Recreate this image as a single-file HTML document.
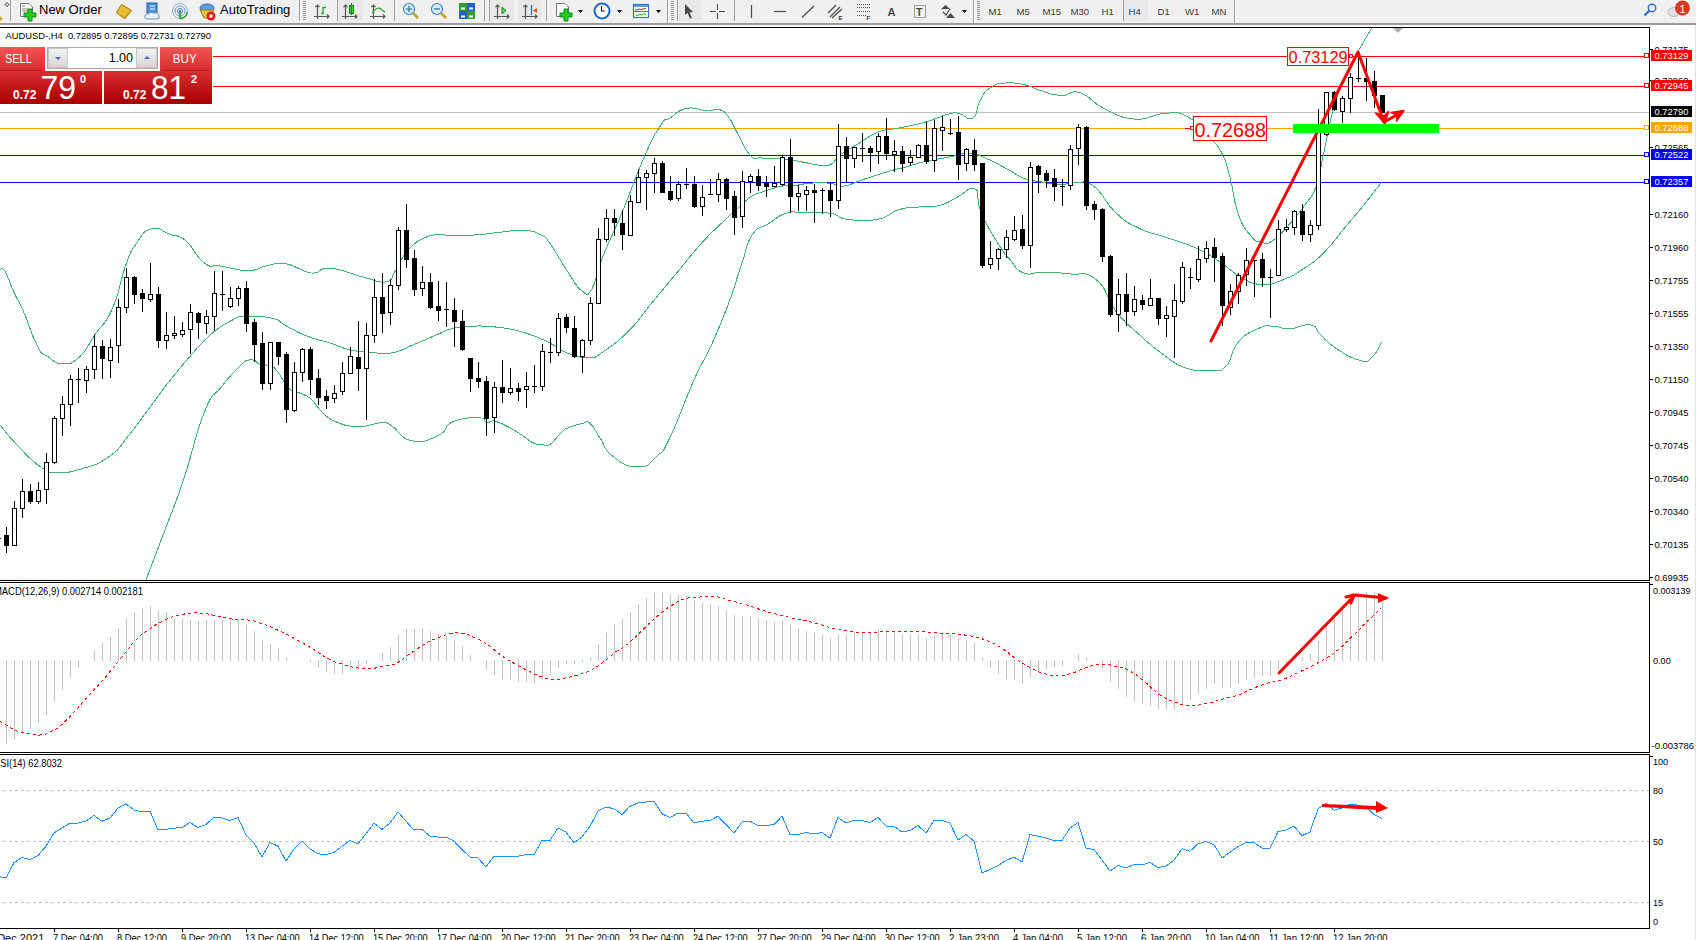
<!DOCTYPE html><html><head><meta charset="utf-8"><title>MT4</title><style>
html,body{margin:0;padding:0;width:1696px;height:940px;overflow:hidden;background:#fff}
svg{position:absolute;left:0;top:0}
text{font-family:"Liberation Sans",sans-serif}
</style></head><body>
<svg width="1696" height="940" viewBox="0 0 1696 940">
<rect x="0" y="0" width="1696" height="23" fill="#f0f0f0"/>
<rect x="0" y="23" width="1696" height="2" fill="#9a9a9a"/>
<rect x="1695" y="25" width="1" height="915" fill="#e0e0e0"/>
<g id="toolbar"><g shape-rendering="crispEdges">
<rect x="10" y="0" width="1" height="21" fill="#a0a0a0"/>
<rect x="299" y="0" width="1" height="21" fill="#a0a0a0"/><rect x="300" y="0" width="1" height="21" fill="#fff"/>
<rect x="337" y="0" width="1" height="21" fill="#a0a0a0"/>
<rect x="394" y="0" width="1" height="21" fill="#a0a0a0"/>
<rect x="484" y="0" width="1" height="21" fill="#a0a0a0"/>
<rect x="489" y="0" width="1" height="21" fill="#a0a0a0"/>
<rect x="546" y="0" width="1" height="21" fill="#a0a0a0"/>
<rect x="667" y="0" width="1" height="23" fill="#a0a0a0"/><rect x="668" y="0" width="1" height="23" fill="#fff"/>
<rect x="677" y="0" width="1" height="21" fill="#a0a0a0"/>
<rect x="734" y="0" width="1" height="21" fill="#a0a0a0"/>
<rect x="973" y="0" width="1" height="23" fill="#a0a0a0"/><rect x="974" y="0" width="1" height="23" fill="#fff"/>
<rect x="1123" y="0" width="1" height="21" fill="#a0a0a0"/>
<rect x="1234" y="0" width="1" height="23" fill="#a0a0a0"/><rect x="1235" y="0" width="1" height="23" fill="#fff"/>
<!-- pressed backgrounds -->
<rect x="338" y="0" width="24" height="21" fill="#e8e8e8"/>
<rect x="490" y="0" width="24" height="21" fill="#e8e8e8"/>
<rect x="518" y="0" width="24" height="21" fill="#e8e8e8"/>
<rect x="678" y="0" width="24" height="21" fill="#e8e8e8"/>
<rect x="1124" y="0" width="24" height="21" fill="#e8e8e8"/>
<!-- grips -->
<path d="M303,1.5h3M303,3.5h3M303,5.5h3M303,7.5h3M303,9.5h3M303,11.5h3M303,13.5h3M303,15.5h3M303,17.5h3M303,19.5h3" stroke="#9a9a9a" stroke-width="1"/>
<path d="M671,1.5h3M671,3.5h3M671,5.5h3M671,7.5h3M671,9.5h3M671,11.5h3M671,13.5h3M671,15.5h3M671,17.5h3M671,19.5h3" stroke="#9a9a9a" stroke-width="1"/>
<path d="M977,1.5h3M977,3.5h3M977,5.5h3M977,7.5h3M977,9.5h3M977,11.5h3M977,13.5h3M977,15.5h3M977,17.5h3M977,19.5h3" stroke="#9a9a9a" stroke-width="1"/>
</g>
<!-- left partial icon -->
<path d="M0,16 L3,19 L0,21 Z" fill="#d4a020"/>
<path d="M7,2.5 L9,4.5 L7,6.5 L5,4.5 Z" fill="none" stroke="#000" stroke-width="0.8"/>
<!-- New order icon -->
<path d="M20.5,3.5 H29 L32.5,7 V16.5 H20.5 Z" fill="#fafafa" stroke="#777" stroke-width="1"/>
<path d="M22,6h3M22,9h6M22,11h6" stroke="#888" stroke-width="1"/>
<path d="M28,9 h4 v4 h4 v4 h-4 v4 h-4 v-4 h-4 v-4 h4 Z" fill="#22cc22" stroke="#108a10" stroke-width="1"/>
<text x="39" y="14" font-size="13" fill="#000">New Order</text>
<!-- book -->
<path d="M116.5,12.5 L121.5,4.5 L131.5,10.5 L125,18.5 Z" fill="#e6c030" stroke="#a06a10" stroke-width="1"/>
<path d="M117,13 L124.5,18.5 L130,12" fill="none" stroke="#c89028" stroke-width="1.2"/>
<!-- server cloud -->
<rect x="147" y="3" width="10" height="10" fill="#4a90e0" stroke="#2060b0"/>
<path d="M150,6h5M150,9h5" stroke="#fff" stroke-width="1"/>
<path d="M145,18 Q144,14 148,14 Q150,11 154,13 Q159,12 159,16 Q160,19 157,19 L147,19 Q145,19 145,18 Z" fill="#e8f0f8" stroke="#7090b0" stroke-width="1"/>
<!-- signal -->
<circle cx="180" cy="11" r="7.5" fill="none" stroke="#8ab0d8" stroke-width="1"/>
<circle cx="180" cy="11" r="5" fill="none" stroke="#6a98d0" stroke-width="1"/>
<circle cx="180" cy="11" r="2.5" fill="none" stroke="#3a78c8" stroke-width="1"/>
<circle cx="180" cy="11" r="1" fill="#2060c0"/>
<path d="M180,11 V18.5 A7.5,7.5 0 0 0 187.3,12.5" fill="none" stroke="#30a030" stroke-width="1.6"/>
<!-- autotrading -->
<ellipse cx="207" cy="8" rx="7" ry="4" fill="#5aa0e0" stroke="#3070b0"/>
<path d="M200,10 L214,10 L209,18 L204,18 Z" fill="#e8c040" stroke="#a08020"/>
<circle cx="211" cy="16" r="4.5" fill="#e02020"/>
<rect x="209.5" y="14.5" width="3" height="3" fill="#fff"/>
<text x="220" y="14" font-size="13" fill="#000">AutoTrading</text>
<!-- bar chart icon -->
<g fill="none" stroke="#555" stroke-width="1.2">
<path d="M317.5,5 V19 M314,16.5 H329"/><path d="M315.5,7 L317.5,5 L319.5,7 M327,14.5 L329,16.5 L327,18.5"/>
<path d="M345.5,5 V19 M342,16.5 H357"/><path d="M343.5,7 L345.5,5 L347.5,7 M355,14.5 L357,16.5 L355,18.5"/>
<path d="M373.5,5 V19 M370,16.5 H385"/><path d="M371.5,7 L373.5,5 L375.5,7 M383,14.5 L385,16.5 L383,18.5"/>
<path d="M497.5,5 V19 M494,16.5 H509"/><path d="M495.5,7 L497.5,5 L499.5,7 M507,14.5 L509,16.5 L507,18.5"/>
<path d="M525.5,5 V19 M522,16.5 H537"/><path d="M523.5,7 L525.5,5 L527.5,7 M535,14.5 L537,16.5 L535,18.5"/>
</g>
<path d="M321,13.5 H323 V7.5 H326" fill="none" stroke="#20a020" stroke-width="1.3"/>
<rect x="349.5" y="5.5" width="4" height="8" fill="#30d030" stroke="#108a10"/>
<path d="M351.5,3 V15" stroke="#108a10" stroke-width="1"/>
<path d="M372,13 Q378,5 382,10 L385,12" fill="none" stroke="#20a020" stroke-width="1.2"/>
<!-- zoom in/out -->
<circle cx="409" cy="9" r="5.5" fill="#d8f0fc" stroke="#3a80c8" stroke-width="1.2"/>
<path d="M406,9h6M409,6v6" stroke="#4a88b8" stroke-width="1.6"/>
<path d="M413,13 L418,18" stroke="#c8a020" stroke-width="2.5"/>
<circle cx="437" cy="9" r="5.5" fill="#d8f0fc" stroke="#3a80c8" stroke-width="1.2"/>
<path d="M434,9h6" stroke="#4a88b8" stroke-width="1.6"/>
<path d="M441,13 L446,18" stroke="#c8a020" stroke-width="2.5"/>
<!-- tile -->
<rect x="459" y="3" width="8" height="8" fill="#30a030"/><rect x="467" y="3" width="8" height="8" fill="#2060d0"/>
<rect x="459" y="11" width="8" height="8" fill="#2060d0"/><rect x="467" y="11" width="8" height="8" fill="#30a030"/>
<path d="M461,7.5h4v2h-4zM469,7.5h4v2h-4zM461,15.5h4v2h-4zM469,15.5h4v2h-4z" fill="#fff"/>
<!-- autoscroll / shift -->
<path d="M502,7 L506,10.5 L502,14 Z" fill="#60d060" stroke="#108a10" stroke-width="1"/>
<path d="M531.5,5 V15" stroke="#2070b0" stroke-width="1.3"/>
<path d="M533,10.5 L537,8 V13 Z" fill="#e05010"/>
<!-- indicators -->
<path d="M556.5,3.5 H565 L568.5,7 V16.5 H556.5 Z" fill="#fafafa" stroke="#777" stroke-width="1"/>
<path d="M564,9 h4 v4 h4 v4 h-4 v4 h-4 v-4 h-4 v-4 h4 Z" fill="#22cc22" stroke="#108a10" stroke-width="1"/>
<path d="M578,10 h5 l-2.5,3 Z" fill="#000"/>
<!-- clock -->
<circle cx="602" cy="11" r="7.5" fill="#fff" stroke="#1a6ad0" stroke-width="2"/>
<path d="M601.5,6 V11 H605" fill="none" stroke="#222" stroke-width="1.2"/>
<path d="M617,10 h5 l-2.5,3 Z" fill="#000"/>
<!-- templates -->
<rect x="633.5" y="4.5" width="15" height="13" fill="#fff" stroke="#3a78c8" stroke-width="1.2"/>
<rect x="634" y="5" width="14" height="2" fill="#5a98e0"/>
<path d="M634,11.5h14" stroke="#3a78c8"/>
<path d="M635,10 L637,10 L639,9 L641,9.5 L643,9 L646,8.5" fill="none" stroke="#a03010" stroke-width="1"/>
<path d="M636,15.5 L638,15 L640,14.5 L642,15 L644,13.5 L646,15" fill="none" stroke="#20a020" stroke-width="1"/>
<path d="M656,10 h5 l-2.5,3 Z" fill="#000"/>
<!-- cursor -->
<path d="M685,4 L693,12 L689.5,12.5 L692,18 L690,18.5 L687.5,13 L685,15 Z" fill="#4a4a4a"/>
<!-- crosshair -->
<path d="M710,11.5h6M719,11.5h6M717.5,4v6M717.5,13v6" stroke="#4a4a4a" stroke-width="1"/>
<path d="M751.5,5 V18" stroke="#4a4a4a" stroke-width="1.2"/>
<path d="M774,11.5 H786" stroke="#4a4a4a" stroke-width="1.2"/>
<path d="M802,17.5 L814,6" stroke="#4a4a4a" stroke-width="1.2"/>
<!-- channel -->
<path d="M828,13 L836,5 M830,17 L840,7 M832,18 L842,9" stroke="#4a4a4a" stroke-width="1.2"/>
<text x="838.5" y="19.5" font-size="6" font-weight="bold" fill="#333">E</text>
<!-- fibo -->
<path d="M857,4.5h13M857,7.5h13M857,11.5h13M857,15.5h10" stroke="#555" stroke-width="1" stroke-dasharray="1,1"/>
<text x="866.5" y="19.5" font-size="6" font-weight="bold" fill="#333">F</text>
<text x="887.5" y="16" font-size="11" font-weight="bold" fill="#4a4a4a">A</text>
<!-- label T -->
<rect x="914.5" y="5.5" width="11" height="12" fill="none" stroke="#555" stroke-width="1" stroke-dasharray="1,1"/>
<text x="916" y="16" font-size="10.5" font-weight="bold" fill="#4a4a4a">T</text>
<!-- arrows -->
<path d="M941,9 L945.5,5 L950,9 Z M946,18 L950.5,13 L955,18 Z" fill="#4a4a4a"/>
<path d="M943,12 L946,15 L950,9" fill="none" stroke="#4a4a4a" stroke-width="1.2"/>
<path d="M962,10 h5 l-2.5,3 Z" fill="#000"/>
<!-- timeframes -->
<g font-size="9.6" fill="#3a3a3a">
<text x="988.5" y="15">M1</text>
<text x="1016.5" y="15">M5</text>
<text x="1042.5" y="15">M15</text>
<text x="1070.5" y="15">M30</text>
<text x="1101.5" y="15">H1</text>
<text x="1128.5" y="15">H4</text>
<text x="1157.5" y="15">D1</text>
<text x="1185" y="15">W1</text>
<text x="1211.5" y="15">MN</text>
</g>
<!-- search -->
<circle cx="1652" cy="8" r="3.7" fill="none" stroke="#2a6ad0" stroke-width="1.4"/>
<path d="M1649.5,10.5 L1644.5,15.5" stroke="#2a6ad0" stroke-width="2.2"/>
<!-- chat -->
<ellipse cx="1674" cy="12" rx="6" ry="4.5" fill="#e0e0e0" stroke="#b8b8b8"/>
<circle cx="1682.5" cy="8" r="7.5" fill="#d83a20"/>
<text x="1679.6" y="13" font-size="11" fill="#fff">1</text>
</g>
<g shape-rendering="crispEdges">
<path d="M0,27.5H1649.5V580.5H0" fill="none" stroke="#000" stroke-width="1"/>
<path d="M0,582.5H1649.5V752.5H0" fill="none" stroke="#000" stroke-width="1"/>
<path d="M0,754.5H1649.5V928.5H0" fill="none" stroke="#000" stroke-width="1"/>
</g>
<defs><clipPath id="cm"><rect x="0" y="28" width="1649" height="552"/></clipPath><clipPath id="cmacd"><rect x="0" y="583" width="1649" height="169"/></clipPath><clipPath id="crsi"><rect x="0" y="755" width="1649" height="173"/></clipPath></defs>
<g clip-path="url(#cm)">
<g shape-rendering="crispEdges">
<rect x="0" y="56" width="1649" height="1" fill="#ff0000"/>
<rect x="0" y="86" width="1649" height="1" fill="#ff0000"/>
<rect x="0" y="112" width="1649" height="1" fill="#c0c0c0"/>
<rect x="0" y="128" width="1649" height="1" fill="#ffa500"/>
<rect x="0" y="155" width="1649" height="1" fill="#0000ff"/>
<rect x="0" y="182" width="1649" height="1" fill="#0000ff"/>
</g>
<g fill="none" stroke="#3cb371" stroke-width="1" shape-rendering="crispEdges">
<path d="M0.0,269.6 C1.3,270.1 1.4,265.4 5.0,271.3 C8.6,277.2 8.6,280.8 13.6,291.7 C18.6,302.6 17.5,297.6 23.8,312.1 C30.1,326.6 31.0,334.3 37.4,346.1 C43.8,357.9 40.9,351.7 47.7,356.4 C54.5,361.1 54.4,363.8 63.0,363.8 C71.6,363.8 71.4,364.3 80.0,356.4 C88.6,348.5 86.7,346.9 95.3,334.2 C103.9,321.5 104.1,327.3 112.3,308.7 C120.5,290.1 119.7,281.8 126.0,264.5 C132.3,247.2 129.3,253.5 136.1,244.0 C142.9,234.5 142.4,231.2 151.5,228.7 C160.6,226.2 161.1,231.3 170.2,234.5 C179.3,237.7 176.4,233.1 185.5,240.6 C194.6,248.1 194.7,256.0 204.2,262.8 C213.7,269.6 209.4,264.1 221.2,266.2 C233.0,268.3 236.7,270.6 248.5,270.6 C260.3,270.6 255.5,268.0 265.5,266.2 C275.5,264.4 273.7,262.0 285.9,263.8 C298.1,265.6 299.6,271.8 311.4,273.0 C323.2,274.2 316.0,267.0 330.0,268.2 C344.0,269.4 349.1,273.7 364.0,277.4 C378.9,281.1 377.8,283.4 386.0,281.9 C394.2,280.4 390.7,277.7 394.9,271.6 C399.1,265.5 397.0,266.1 401.6,259.2 C406.2,252.3 406.2,251.4 412.1,245.8 C418.0,240.2 417.0,241.2 423.6,238.1 C430.2,235.0 430.4,235.1 437.0,234.3 C443.6,233.5 438.0,235.0 448.5,235.2 C459.0,235.4 462.7,235.7 476.4,234.9 C490.1,234.1 487.3,233.4 500.0,232.2 C512.7,231.0 513.1,229.8 524.0,230.5 C534.9,231.2 533.8,231.0 541.0,234.9 C548.2,238.8 543.8,235.0 551.0,245.0 C558.2,255.0 559.7,260.0 568.0,272.3 C576.3,284.6 575.6,286.6 582.0,291.0 C588.4,295.4 586.7,297.3 592.0,288.7 C597.3,280.1 593.8,279.4 602.0,258.7 C610.2,238.0 611.8,237.3 622.7,211.0 C633.6,184.7 633.1,182.6 643.0,160.0 C652.9,137.4 652.7,137.6 660.0,126.4 C667.3,115.2 662.9,122.7 670.2,117.9 C677.5,113.1 677.2,110.1 687.2,108.3 C697.2,106.5 699.5,110.7 707.7,111.0 C715.9,111.3 712.5,108.0 717.9,109.4 C723.3,110.8 722.6,109.4 728.0,116.2 C733.4,123.0 732.4,124.5 738.3,134.9 C744.2,145.3 743.9,149.1 750.2,155.3 C756.5,161.5 753.5,157.1 762.1,158.0 C770.7,158.9 771.6,157.6 782.5,158.7 C793.4,159.8 793.9,160.5 803.0,162.1 C812.1,163.7 809.3,164.1 816.6,164.8 C823.9,165.5 823.9,167.5 830.2,164.8 C836.5,162.1 833.1,160.0 840.4,154.6 C847.7,149.2 847.4,150.4 857.4,144.4 C867.4,138.4 866.9,136.5 877.8,132.2 C888.7,127.9 885.6,130.8 898.3,128.1 C911.0,125.4 911.9,125.8 925.5,122.0 C939.1,118.2 940.2,116.0 949.3,113.8 C958.4,111.6 953.2,112.7 959.5,113.8 C965.8,114.9 967.6,121.4 973.1,117.9 C978.6,114.4 975.4,108.8 980.0,100.8 C984.6,92.8 983.3,92.6 990.2,87.9 C997.1,83.2 996.3,83.8 1005.7,83.0 C1015.1,82.2 1015.9,82.9 1025.4,85.0 C1034.9,87.1 1031.8,88.0 1041.2,90.8 C1050.6,93.6 1050.3,95.0 1060.8,95.5 C1071.3,96.0 1069.0,89.3 1080.5,92.8 C1092.0,96.3 1089.3,101.5 1104.0,108.5 C1118.7,115.5 1119.9,117.8 1135.6,119.2 C1151.3,120.6 1149.4,114.3 1163.0,113.6 C1176.6,112.9 1174.1,109.9 1186.7,116.4 C1199.3,122.9 1200.9,128.0 1210.3,138.0 C1219.7,148.0 1216.8,143.3 1222.1,153.8 C1227.4,164.3 1225.8,161.7 1230.0,177.4 C1234.2,193.1 1232.6,197.6 1237.9,212.8 C1243.2,228.0 1243.4,226.5 1249.7,234.4 C1256.0,242.3 1255.2,240.7 1261.5,242.3 C1267.8,243.9 1266.0,245.0 1273.3,240.3 C1280.6,235.6 1280.6,234.0 1289.0,224.6 C1297.4,215.2 1297.4,215.5 1304.8,205.0 C1312.2,194.5 1311.4,200.0 1316.6,185.3 C1321.8,170.6 1319.1,172.9 1324.4,149.8 C1329.7,126.7 1328.9,121.8 1336.3,98.7 C1343.7,75.6 1342.6,82.2 1352.0,63.3 C1361.4,44.4 1366.4,37.3 1371.7,27.9"/>
<path d="M0.0,425.1 C4.5,430.4 6.1,433.7 17.0,444.9 C27.9,456.1 29.9,459.7 40.8,467.0 C51.7,474.3 47.0,471.6 57.9,472.1 C68.8,472.6 68.1,472.8 81.7,468.7 C95.3,464.6 96.2,465.9 108.9,456.8 C121.6,447.7 118.4,447.8 129.3,434.6 C140.2,421.4 138.9,421.9 149.8,407.4 C160.7,392.9 159.3,394.0 170.2,380.2 C181.1,366.4 179.7,368.0 190.6,355.7 C201.5,343.4 200.1,343.6 211.0,334.2 C221.9,324.8 222.3,325.4 231.4,320.6 C240.5,315.8 234.1,316.8 245.0,316.2 C255.9,315.6 261.4,315.7 272.3,318.2 C283.2,320.7 276.8,321.0 285.9,325.7 C295.0,330.4 294.5,331.3 306.3,335.9 C318.1,340.5 318.2,339.2 330.0,343.0 C341.8,346.8 339.5,347.5 350.4,350.0 C361.3,352.5 359.9,351.5 370.8,352.3 C381.7,353.1 380.4,354.8 391.3,353.0 C402.2,351.2 399.9,350.2 411.7,345.5 C423.5,340.8 424.6,339.8 435.5,335.3 C446.4,330.8 442.5,331.0 452.5,328.5 C462.5,326.0 460.3,326.4 473.0,326.1 C485.7,325.8 485.5,325.5 500.0,327.5 C514.5,329.5 513.7,329.3 527.4,333.6 C541.1,337.9 540.4,338.5 551.2,343.8 C562.0,349.1 558.0,349.7 568.0,353.3 C578.0,356.9 579.6,357.7 588.7,357.4 C597.8,357.1 591.4,359.6 602.3,352.3 C613.2,345.0 616.8,342.8 629.5,330.2 C642.2,317.6 639.2,318.1 650.0,305.0 C660.8,291.9 661.9,290.7 670.0,281.0 C678.1,271.3 672.2,278.4 680.4,268.5 C688.6,258.6 689.9,256.0 700.8,244.0 C711.7,232.0 710.4,233.9 721.3,223.4 C732.2,212.9 733.5,212.0 741.7,204.7 C749.9,197.4 746.5,199.5 751.9,196.1 C757.3,192.7 753.9,194.8 762.1,192.1 C770.3,189.4 773.4,187.8 782.5,186.0 C791.6,184.2 788.8,186.0 796.1,185.3 C803.4,184.6 800.7,183.8 809.8,183.2 C818.9,182.6 821.1,182.5 830.2,183.2 C839.3,183.9 834.7,187.1 843.8,186.0 C852.9,184.9 851.5,183.2 864.2,179.1 C876.9,175.0 880.5,173.8 891.4,170.6 C902.3,167.4 895.9,169.7 905.0,167.2 C914.1,164.7 913.7,164.1 925.5,161.4 C937.3,158.7 937.8,159.2 949.3,157.0 C960.8,154.8 959.1,152.9 968.6,153.1 C978.1,153.3 974.4,153.6 984.9,157.9 C995.4,162.2 997.7,164.0 1007.9,169.4 C1018.1,174.8 1014.5,174.7 1023.2,178.0 C1031.9,181.3 1030.7,180.0 1040.4,181.8 C1050.1,183.6 1050.4,184.4 1059.6,184.7 C1068.8,185.0 1065.7,182.3 1074.9,182.8 C1084.1,183.3 1083.1,178.6 1094.0,186.6 C1104.9,194.6 1103.8,201.6 1115.9,212.8 C1128.0,224.0 1126.9,222.2 1139.5,228.5 C1152.1,234.8 1148.3,231.4 1163.0,236.4 C1177.7,241.4 1180.1,241.1 1194.6,247.4 C1209.1,253.7 1204.6,251.9 1217.2,260.0 C1229.8,268.1 1230.0,271.2 1241.8,277.7 C1253.6,284.2 1251.0,283.7 1261.5,284.4 C1272.0,285.1 1269.7,284.9 1281.2,280.5 C1292.7,276.1 1293.3,275.5 1304.8,267.9 C1316.3,260.3 1313.9,262.6 1324.4,252.1 C1334.9,241.6 1333.6,241.1 1344.1,228.5 C1354.6,215.9 1353.8,217.4 1363.8,205.0 C1373.8,192.6 1376.8,188.2 1381.5,182.1"/>
<path d="M145.5,581.0 C150.7,567.4 154.8,557.2 165.0,530.0 C175.2,502.8 173.3,510.2 183.8,478.9 C194.3,447.6 194.2,437.0 204.2,412.5 C214.2,388.0 211.7,399.4 221.2,387.0 C230.7,374.6 232.9,373.1 240.0,366.0 C247.1,358.9 243.9,361.9 247.7,360.4 C251.5,358.9 251.3,359.4 254.4,360.4 C257.5,361.4 255.9,363.0 259.2,364.3 C262.5,365.6 262.7,364.2 266.8,365.2 C270.9,366.2 269.9,363.8 274.5,368.1 C279.1,372.4 279.9,375.9 284.0,381.5 C288.1,387.1 285.7,386.1 289.8,389.2 C293.9,392.3 293.8,390.4 299.4,393.0 C305.0,395.6 305.3,394.2 310.9,398.8 C316.5,403.4 313.8,404.1 320.4,410.2 C327.0,416.3 325.6,417.4 335.8,421.7 C346.0,426.0 346.7,426.2 358.8,426.5 C370.9,426.8 372.3,423.1 381.0,422.8 C389.7,422.5 383.1,420.7 391.3,425.5 C399.5,430.3 399.0,438.3 411.7,440.8 C424.4,443.3 428.1,440.0 439.0,435.0 C449.9,430.0 441.8,426.6 452.5,422.0 C463.2,417.4 470.1,417.6 479.2,417.8 C488.3,418.0 482.2,421.6 486.8,422.6 C491.4,423.6 488.2,419.0 496.4,421.6 C504.6,424.2 507.8,426.6 517.5,432.2 C527.2,437.8 526.2,439.4 532.8,442.7 C539.4,446.0 537.8,444.1 542.4,444.6 C547.0,445.1 544.9,447.9 550.0,444.6 C555.1,441.3 556.4,436.8 561.5,432.2 C566.6,427.6 563.6,429.7 569.2,427.4 C574.8,425.1 577.0,424.5 582.6,423.5 C588.2,422.5 585.6,419.7 590.2,423.5 C594.8,427.3 594.1,429.2 600.0,437.9 C605.9,446.6 602.4,448.3 612.5,456.1 C622.6,463.9 626.2,467.0 638.0,467.0 C649.8,467.0 648.3,464.0 656.8,456.1 C665.3,448.2 660.1,457.7 670.0,437.4 C679.9,417.1 683.1,404.4 694.0,380.0 C704.9,355.6 701.9,365.9 711.0,345.9 C720.1,325.9 719.8,326.8 728.0,305.0 C736.2,283.2 735.3,282.8 741.7,264.2 C748.1,245.6 744.6,246.2 751.9,235.3 C759.2,224.4 759.9,229.3 769.0,223.4 C778.1,217.5 776.9,216.1 786.0,213.2 C795.1,210.3 791.2,212.5 803.0,212.5 C814.8,212.5 818.4,211.4 830.2,213.2 C842.0,215.0 834.5,217.7 847.2,219.3 C859.9,220.9 864.2,221.8 877.8,219.3 C891.4,216.8 887.4,213.1 898.3,209.8 C909.2,206.5 907.8,208.1 918.7,207.0 C929.6,205.9 929.1,208.2 939.1,205.7 C949.1,203.2 946.7,202.4 956.1,197.8 C965.5,193.2 968.3,186.4 974.4,188.5 C980.5,190.6 976.2,197.1 979.0,205.8 C981.8,214.5 979.9,210.8 985.0,221.0 C990.1,231.2 991.7,233.8 998.3,244.0 C1004.9,254.2 1003.2,251.7 1009.8,259.4 C1016.4,267.1 1014.8,269.3 1023.2,272.8 C1031.6,276.3 1029.1,272.3 1041.2,272.6 C1053.3,272.9 1054.0,271.9 1068.7,273.8 C1083.4,275.7 1083.6,269.7 1096.2,279.7 C1108.8,289.7 1104.4,296.5 1115.9,311.2 C1127.4,325.9 1126.9,323.3 1139.5,334.8 C1152.1,346.3 1150.4,345.5 1163.0,354.4 C1175.6,363.3 1174.1,364.0 1186.7,368.2 C1199.3,372.4 1199.8,370.7 1210.3,370.2 C1220.8,369.7 1218.6,373.7 1226.0,366.3 C1233.4,358.9 1229.5,352.6 1237.9,342.6 C1246.3,332.6 1248.2,333.3 1257.6,328.9 C1267.0,324.5 1264.9,326.1 1273.3,326.1 C1281.7,326.1 1279.0,329.2 1289.0,328.9 C1299.0,328.6 1302.3,323.3 1310.7,324.9 C1319.1,326.5 1313.7,328.5 1320.5,334.8 C1327.3,341.1 1325.8,341.7 1336.3,348.5 C1346.8,355.3 1350.5,358.0 1359.9,360.4 C1369.3,362.8 1365.9,362.5 1371.7,357.6 C1377.5,352.7 1378.9,346.1 1381.5,341.9"/>
</g>
<g shape-rendering="crispEdges">
<rect x="-2" y="535.0" width="1" height="7.0" fill="#000"/>
<rect x="-4" y="538.0" width="5" height="1" fill="#000"/>
<rect x="6" y="527.0" width="1" height="26.0" fill="#000"/>
<rect x="4" y="535.0" width="5" height="11.0" fill="#000"/>
<rect x="14" y="501.0" width="1" height="45.0" fill="#000"/>
<rect x="12.5" y="508.5" width="4" height="37.0" fill="#fff" stroke="#000" stroke-width="1"/>
<rect x="22" y="479.0" width="1" height="39.0" fill="#000"/>
<rect x="20.5" y="491.5" width="4" height="17.0" fill="#fff" stroke="#000" stroke-width="1"/>
<rect x="30" y="484.0" width="1" height="20.0" fill="#000"/>
<rect x="28" y="491.0" width="5" height="11.0" fill="#000"/>
<rect x="38" y="482.0" width="1" height="22.0" fill="#000"/>
<rect x="36.5" y="490.5" width="4" height="11.0" fill="#fff" stroke="#000" stroke-width="1"/>
<rect x="46" y="453.0" width="1" height="51.0" fill="#000"/>
<rect x="44.5" y="462.5" width="4" height="27.0" fill="#fff" stroke="#000" stroke-width="1"/>
<rect x="54" y="416.0" width="1" height="48.0" fill="#000"/>
<rect x="52.5" y="418.5" width="4" height="44.0" fill="#fff" stroke="#000" stroke-width="1"/>
<rect x="62" y="396.0" width="1" height="40.0" fill="#000"/>
<rect x="60.5" y="404.5" width="4" height="14.0" fill="#fff" stroke="#000" stroke-width="1"/>
<rect x="70" y="375.0" width="1" height="51.0" fill="#000"/>
<rect x="68.5" y="379.5" width="4" height="25.0" fill="#fff" stroke="#000" stroke-width="1"/>
<rect x="78" y="368.0" width="1" height="35.0" fill="#000"/>
<rect x="76" y="379.0" width="5" height="1" fill="#000"/>
<rect x="86" y="366.0" width="1" height="27.0" fill="#000"/>
<rect x="84.5" y="369.5" width="4" height="11.0" fill="#fff" stroke="#000" stroke-width="1"/>
<rect x="94" y="335.0" width="1" height="44.0" fill="#000"/>
<rect x="92.5" y="346.5" width="4" height="23.0" fill="#fff" stroke="#000" stroke-width="1"/>
<rect x="102" y="340.0" width="1" height="39.0" fill="#000"/>
<rect x="100" y="346.0" width="5" height="13.0" fill="#000"/>
<rect x="110" y="339.0" width="1" height="39.0" fill="#000"/>
<rect x="108.5" y="347.5" width="4" height="13.0" fill="#fff" stroke="#000" stroke-width="1"/>
<rect x="118" y="299.0" width="1" height="64.0" fill="#000"/>
<rect x="116.5" y="307.5" width="4" height="38.0" fill="#fff" stroke="#000" stroke-width="1"/>
<rect x="126" y="268.0" width="1" height="45.0" fill="#000"/>
<rect x="124.5" y="277.5" width="4" height="30.0" fill="#fff" stroke="#000" stroke-width="1"/>
<rect x="134" y="276.0" width="1" height="28.0" fill="#000"/>
<rect x="132" y="277.0" width="5" height="18.0" fill="#000"/>
<rect x="142" y="289.0" width="1" height="23.0" fill="#000"/>
<rect x="140" y="293.0" width="5" height="6.0" fill="#000"/>
<rect x="150" y="263.0" width="1" height="39.0" fill="#000"/>
<rect x="148.5" y="294.5" width="4" height="5.0" fill="#fff" stroke="#000" stroke-width="1"/>
<rect x="158" y="287.0" width="1" height="61.0" fill="#000"/>
<rect x="156" y="294.0" width="5" height="47.0" fill="#000"/>
<rect x="166" y="312.0" width="1" height="37.0" fill="#000"/>
<rect x="164.5" y="335.5" width="4" height="5.0" fill="#fff" stroke="#000" stroke-width="1"/>
<rect x="174" y="316.0" width="1" height="23.0" fill="#000"/>
<rect x="172.5" y="333.5" width="4" height="2.0" fill="#fff" stroke="#000" stroke-width="1"/>
<rect x="182" y="322.0" width="1" height="15.0" fill="#000"/>
<rect x="180.5" y="330.5" width="4" height="4.0" fill="#fff" stroke="#000" stroke-width="1"/>
<rect x="190" y="304.0" width="1" height="50.0" fill="#000"/>
<rect x="188.5" y="312.5" width="4" height="17.0" fill="#fff" stroke="#000" stroke-width="1"/>
<rect x="198" y="312.0" width="1" height="27.0" fill="#000"/>
<rect x="196" y="313.0" width="5" height="10.0" fill="#000"/>
<rect x="206" y="310.0" width="1" height="24.0" fill="#000"/>
<rect x="204.5" y="316.5" width="4" height="7.0" fill="#fff" stroke="#000" stroke-width="1"/>
<rect x="214" y="271.0" width="1" height="60.0" fill="#000"/>
<rect x="212.5" y="293.5" width="4" height="23.0" fill="#fff" stroke="#000" stroke-width="1"/>
<rect x="222" y="271.0" width="1" height="40.0" fill="#000"/>
<rect x="220" y="294.0" width="5" height="1" fill="#000"/>
<rect x="230" y="287.0" width="1" height="21.0" fill="#000"/>
<rect x="228.5" y="298.5" width="4" height="8.0" fill="#fff" stroke="#000" stroke-width="1"/>
<rect x="238" y="286.0" width="1" height="20.0" fill="#000"/>
<rect x="236.5" y="288.5" width="4" height="10.0" fill="#fff" stroke="#000" stroke-width="1"/>
<rect x="246" y="281.0" width="1" height="51.0" fill="#000"/>
<rect x="244" y="288.0" width="5" height="36.0" fill="#000"/>
<rect x="254" y="319.0" width="1" height="43.0" fill="#000"/>
<rect x="252" y="322.0" width="5" height="23.0" fill="#000"/>
<rect x="262" y="332.0" width="1" height="58.0" fill="#000"/>
<rect x="260" y="343.0" width="5" height="41.0" fill="#000"/>
<rect x="270" y="342.0" width="1" height="48.0" fill="#000"/>
<rect x="268.5" y="342.5" width="4" height="41.0" fill="#fff" stroke="#000" stroke-width="1"/>
<rect x="278" y="342.0" width="1" height="23.0" fill="#000"/>
<rect x="276" y="342.0" width="5" height="15.0" fill="#000"/>
<rect x="286" y="352.0" width="1" height="71.0" fill="#000"/>
<rect x="284" y="354.0" width="5" height="56.0" fill="#000"/>
<rect x="294" y="362.0" width="1" height="50.0" fill="#000"/>
<rect x="292.5" y="372.5" width="4" height="38.0" fill="#fff" stroke="#000" stroke-width="1"/>
<rect x="302" y="348.0" width="1" height="34.0" fill="#000"/>
<rect x="300.5" y="349.5" width="4" height="23.0" fill="#fff" stroke="#000" stroke-width="1"/>
<rect x="310" y="347.0" width="1" height="48.0" fill="#000"/>
<rect x="308" y="349.0" width="5" height="31.0" fill="#000"/>
<rect x="318" y="369.0" width="1" height="36.0" fill="#000"/>
<rect x="316" y="378.0" width="5" height="20.0" fill="#000"/>
<rect x="326" y="390.0" width="1" height="19.0" fill="#000"/>
<rect x="324" y="396.0" width="5" height="5.0" fill="#000"/>
<rect x="334" y="385.0" width="1" height="18.0" fill="#000"/>
<rect x="332.5" y="393.5" width="4" height="5.0" fill="#fff" stroke="#000" stroke-width="1"/>
<rect x="342" y="362.0" width="1" height="33.0" fill="#000"/>
<rect x="340.5" y="373.5" width="4" height="18.0" fill="#fff" stroke="#000" stroke-width="1"/>
<rect x="350" y="347.0" width="1" height="27.0" fill="#000"/>
<rect x="348.5" y="356.5" width="4" height="17.0" fill="#fff" stroke="#000" stroke-width="1"/>
<rect x="358" y="321.0" width="1" height="70.0" fill="#000"/>
<rect x="356" y="357.0" width="5" height="12.0" fill="#000"/>
<rect x="366" y="323.0" width="1" height="97.0" fill="#000"/>
<rect x="364.5" y="335.5" width="4" height="33.0" fill="#fff" stroke="#000" stroke-width="1"/>
<rect x="374" y="279.0" width="1" height="64.0" fill="#000"/>
<rect x="372.5" y="297.5" width="4" height="38.0" fill="#fff" stroke="#000" stroke-width="1"/>
<rect x="382" y="273.0" width="1" height="60.0" fill="#000"/>
<rect x="380" y="297.0" width="5" height="17.0" fill="#000"/>
<rect x="390" y="279.0" width="1" height="46.0" fill="#000"/>
<rect x="388.5" y="285.5" width="4" height="27.0" fill="#fff" stroke="#000" stroke-width="1"/>
<rect x="398" y="227.0" width="1" height="63.0" fill="#000"/>
<rect x="396.5" y="230.5" width="4" height="55.0" fill="#fff" stroke="#000" stroke-width="1"/>
<rect x="406" y="204.0" width="1" height="64.0" fill="#000"/>
<rect x="404" y="230.0" width="5" height="30.0" fill="#000"/>
<rect x="414" y="250.0" width="1" height="46.0" fill="#000"/>
<rect x="412" y="258.0" width="5" height="32.0" fill="#000"/>
<rect x="422" y="266.0" width="1" height="30.0" fill="#000"/>
<rect x="420.5" y="282.5" width="4" height="6.0" fill="#fff" stroke="#000" stroke-width="1"/>
<rect x="430" y="273.0" width="1" height="36.0" fill="#000"/>
<rect x="428" y="282.0" width="5" height="26.0" fill="#000"/>
<rect x="438" y="281.0" width="1" height="40.0" fill="#000"/>
<rect x="436" y="306.0" width="5" height="5.0" fill="#000"/>
<rect x="446" y="282.0" width="1" height="45.0" fill="#000"/>
<rect x="444" y="309.0" width="5" height="1" fill="#000"/>
<rect x="454" y="298.0" width="1" height="49.0" fill="#000"/>
<rect x="452" y="310.0" width="5" height="12.0" fill="#000"/>
<rect x="462" y="310.0" width="1" height="41.0" fill="#000"/>
<rect x="460" y="321.0" width="5" height="29.0" fill="#000"/>
<rect x="470" y="358.0" width="1" height="34.0" fill="#000"/>
<rect x="468" y="358.0" width="5" height="21.0" fill="#000"/>
<rect x="478" y="362.0" width="1" height="26.0" fill="#000"/>
<rect x="476" y="378.0" width="5" height="4.0" fill="#000"/>
<rect x="486" y="376.0" width="1" height="60.0" fill="#000"/>
<rect x="484" y="381.0" width="5" height="38.0" fill="#000"/>
<rect x="494" y="382.0" width="1" height="51.0" fill="#000"/>
<rect x="492.5" y="387.5" width="4" height="30.0" fill="#fff" stroke="#000" stroke-width="1"/>
<rect x="502" y="360.0" width="1" height="43.0" fill="#000"/>
<rect x="500" y="387.0" width="5" height="6.0" fill="#000"/>
<rect x="510" y="368.0" width="1" height="27.0" fill="#000"/>
<rect x="508.5" y="388.5" width="4" height="4.0" fill="#fff" stroke="#000" stroke-width="1"/>
<rect x="518" y="383.0" width="1" height="18.0" fill="#000"/>
<rect x="516" y="388.0" width="5" height="4.0" fill="#000"/>
<rect x="526" y="372.0" width="1" height="36.0" fill="#000"/>
<rect x="524.5" y="386.5" width="4" height="3.0" fill="#fff" stroke="#000" stroke-width="1"/>
<rect x="534" y="365.0" width="1" height="28.0" fill="#000"/>
<rect x="532" y="386.0" width="5" height="1" fill="#000"/>
<rect x="542" y="344.0" width="1" height="47.0" fill="#000"/>
<rect x="540.5" y="351.5" width="4" height="35.0" fill="#fff" stroke="#000" stroke-width="1"/>
<rect x="550" y="338.0" width="1" height="25.0" fill="#000"/>
<rect x="548" y="352.0" width="5" height="1" fill="#000"/>
<rect x="558" y="313.0" width="1" height="43.0" fill="#000"/>
<rect x="556.5" y="318.5" width="4" height="34.0" fill="#fff" stroke="#000" stroke-width="1"/>
<rect x="566" y="314.0" width="1" height="19.0" fill="#000"/>
<rect x="564" y="317.0" width="5" height="11.0" fill="#000"/>
<rect x="574" y="316.0" width="1" height="42.0" fill="#000"/>
<rect x="572" y="328.0" width="5" height="29.0" fill="#000"/>
<rect x="582" y="339.0" width="1" height="34.0" fill="#000"/>
<rect x="580.5" y="340.5" width="4" height="16.0" fill="#fff" stroke="#000" stroke-width="1"/>
<rect x="590" y="297.0" width="1" height="48.0" fill="#000"/>
<rect x="588.5" y="303.5" width="4" height="37.0" fill="#fff" stroke="#000" stroke-width="1"/>
<rect x="598" y="228.0" width="1" height="76.0" fill="#000"/>
<rect x="596.5" y="239.5" width="4" height="64.0" fill="#fff" stroke="#000" stroke-width="1"/>
<rect x="606" y="209.0" width="1" height="33.0" fill="#000"/>
<rect x="604.5" y="218.5" width="4" height="21.0" fill="#fff" stroke="#000" stroke-width="1"/>
<rect x="614" y="209.0" width="1" height="27.0" fill="#000"/>
<rect x="612" y="218.0" width="5" height="5.0" fill="#000"/>
<rect x="622" y="210.0" width="1" height="40.0" fill="#000"/>
<rect x="620" y="223.0" width="5" height="12.0" fill="#000"/>
<rect x="630" y="195.0" width="1" height="41.0" fill="#000"/>
<rect x="628.5" y="201.5" width="4" height="34.0" fill="#fff" stroke="#000" stroke-width="1"/>
<rect x="638" y="169.0" width="1" height="34.0" fill="#000"/>
<rect x="636.5" y="177.5" width="4" height="25.0" fill="#fff" stroke="#000" stroke-width="1"/>
<rect x="646" y="170.0" width="1" height="40.0" fill="#000"/>
<rect x="644.5" y="173.5" width="4" height="4.0" fill="#fff" stroke="#000" stroke-width="1"/>
<rect x="654" y="158.0" width="1" height="35.0" fill="#000"/>
<rect x="652.5" y="163.5" width="4" height="10.0" fill="#fff" stroke="#000" stroke-width="1"/>
<rect x="662" y="161.0" width="1" height="32.0" fill="#000"/>
<rect x="660" y="163.0" width="5" height="30.0" fill="#000"/>
<rect x="670" y="176.0" width="1" height="25.0" fill="#000"/>
<rect x="668" y="191.0" width="5" height="9.0" fill="#000"/>
<rect x="678" y="181.0" width="1" height="20.0" fill="#000"/>
<rect x="676.5" y="184.5" width="4" height="14.0" fill="#fff" stroke="#000" stroke-width="1"/>
<rect x="686" y="168.0" width="1" height="21.0" fill="#000"/>
<rect x="684" y="184.0" width="5" height="1" fill="#000"/>
<rect x="694" y="176.0" width="1" height="32.0" fill="#000"/>
<rect x="692" y="184.0" width="5" height="23.0" fill="#000"/>
<rect x="702" y="185.0" width="1" height="31.0" fill="#000"/>
<rect x="700.5" y="197.5" width="4" height="9.0" fill="#fff" stroke="#000" stroke-width="1"/>
<rect x="710" y="179.0" width="1" height="16.0" fill="#000"/>
<rect x="708" y="194.0" width="5" height="1" fill="#000"/>
<rect x="718" y="173.0" width="1" height="29.0" fill="#000"/>
<rect x="716.5" y="179.5" width="4" height="15.0" fill="#fff" stroke="#000" stroke-width="1"/>
<rect x="726" y="178.0" width="1" height="32.0" fill="#000"/>
<rect x="724" y="179.0" width="5" height="20.0" fill="#000"/>
<rect x="734" y="191.0" width="1" height="44.0" fill="#000"/>
<rect x="732" y="196.0" width="5" height="22.0" fill="#000"/>
<rect x="742" y="171.0" width="1" height="57.0" fill="#000"/>
<rect x="740.5" y="181.5" width="4" height="35.0" fill="#fff" stroke="#000" stroke-width="1"/>
<rect x="750" y="174.0" width="1" height="19.0" fill="#000"/>
<rect x="748.5" y="176.5" width="4" height="5.0" fill="#fff" stroke="#000" stroke-width="1"/>
<rect x="758" y="169.0" width="1" height="22.0" fill="#000"/>
<rect x="756" y="176.0" width="5" height="10.0" fill="#000"/>
<rect x="766" y="176.0" width="1" height="21.0" fill="#000"/>
<rect x="764" y="183.0" width="5" height="4.0" fill="#000"/>
<rect x="774" y="166.0" width="1" height="21.0" fill="#000"/>
<rect x="772.5" y="183.5" width="4" height="3.0" fill="#fff" stroke="#000" stroke-width="1"/>
<rect x="782" y="156.0" width="1" height="30.0" fill="#000"/>
<rect x="780.5" y="157.5" width="4" height="27.0" fill="#fff" stroke="#000" stroke-width="1"/>
<rect x="790" y="139.0" width="1" height="74.0" fill="#000"/>
<rect x="788" y="157.0" width="5" height="40.0" fill="#000"/>
<rect x="798" y="185.0" width="1" height="26.0" fill="#000"/>
<rect x="796.5" y="193.5" width="4" height="3.0" fill="#fff" stroke="#000" stroke-width="1"/>
<rect x="806" y="186.0" width="1" height="25.0" fill="#000"/>
<rect x="804.5" y="190.5" width="4" height="4.0" fill="#fff" stroke="#000" stroke-width="1"/>
<rect x="814" y="184.0" width="1" height="39.0" fill="#000"/>
<rect x="812" y="190.0" width="5" height="3.0" fill="#000"/>
<rect x="822" y="188.0" width="1" height="26.0" fill="#000"/>
<rect x="820" y="190.0" width="5" height="1" fill="#000"/>
<rect x="830" y="183.0" width="1" height="34.0" fill="#000"/>
<rect x="828" y="190.0" width="5" height="11.0" fill="#000"/>
<rect x="838" y="124.0" width="1" height="85.0" fill="#000"/>
<rect x="836.5" y="146.5" width="4" height="54.0" fill="#fff" stroke="#000" stroke-width="1"/>
<rect x="846" y="137.0" width="1" height="46.0" fill="#000"/>
<rect x="844" y="146.0" width="5" height="13.0" fill="#000"/>
<rect x="854" y="147.0" width="1" height="21.0" fill="#000"/>
<rect x="852.5" y="147.5" width="4" height="11.0" fill="#fff" stroke="#000" stroke-width="1"/>
<rect x="862" y="133.0" width="1" height="29.0" fill="#000"/>
<rect x="860" y="148.0" width="5" height="1" fill="#000"/>
<rect x="870" y="146.0" width="1" height="26.0" fill="#000"/>
<rect x="868" y="148.0" width="5" height="5.0" fill="#000"/>
<rect x="878" y="133.0" width="1" height="31.0" fill="#000"/>
<rect x="876.5" y="136.5" width="4" height="15.0" fill="#fff" stroke="#000" stroke-width="1"/>
<rect x="886" y="118.0" width="1" height="42.0" fill="#000"/>
<rect x="884" y="136.0" width="5" height="18.0" fill="#000"/>
<rect x="894" y="140.0" width="1" height="32.0" fill="#000"/>
<rect x="892.5" y="151.5" width="4" height="3.0" fill="#fff" stroke="#000" stroke-width="1"/>
<rect x="902" y="146.0" width="1" height="26.0" fill="#000"/>
<rect x="900" y="151.0" width="5" height="13.0" fill="#000"/>
<rect x="910" y="150.0" width="1" height="16.0" fill="#000"/>
<rect x="908.5" y="157.5" width="4" height="5.0" fill="#fff" stroke="#000" stroke-width="1"/>
<rect x="918" y="144.0" width="1" height="14.0" fill="#000"/>
<rect x="916.5" y="145.5" width="4" height="12.0" fill="#fff" stroke="#000" stroke-width="1"/>
<rect x="926" y="122.0" width="1" height="42.0" fill="#000"/>
<rect x="924" y="145.0" width="5" height="17.0" fill="#000"/>
<rect x="934" y="120.0" width="1" height="52.0" fill="#000"/>
<rect x="932.5" y="128.5" width="4" height="32.0" fill="#fff" stroke="#000" stroke-width="1"/>
<rect x="942" y="116.0" width="1" height="35.0" fill="#000"/>
<rect x="940.5" y="127.5" width="4" height="3.0" fill="#fff" stroke="#000" stroke-width="1"/>
<rect x="950" y="119.0" width="1" height="16.0" fill="#000"/>
<rect x="948" y="133.0" width="5" height="1" fill="#000"/>
<rect x="958" y="116.0" width="1" height="64.0" fill="#000"/>
<rect x="956" y="132.0" width="5" height="33.0" fill="#000"/>
<rect x="966" y="148.0" width="1" height="23.0" fill="#000"/>
<rect x="964.5" y="149.5" width="4" height="14.0" fill="#fff" stroke="#000" stroke-width="1"/>
<rect x="974" y="139.0" width="1" height="32.0" fill="#000"/>
<rect x="972" y="150.0" width="5" height="15.0" fill="#000"/>
<rect x="982" y="163.0" width="1" height="105.0" fill="#000"/>
<rect x="980" y="163.0" width="5" height="103.0" fill="#000"/>
<rect x="990" y="241.0" width="1" height="28.0" fill="#000"/>
<rect x="988.5" y="258.5" width="4" height="6.0" fill="#fff" stroke="#000" stroke-width="1"/>
<rect x="998" y="248.0" width="1" height="22.0" fill="#000"/>
<rect x="996.5" y="249.5" width="4" height="9.0" fill="#fff" stroke="#000" stroke-width="1"/>
<rect x="1006" y="230.0" width="1" height="28.0" fill="#000"/>
<rect x="1004.5" y="237.5" width="4" height="12.0" fill="#fff" stroke="#000" stroke-width="1"/>
<rect x="1014" y="216.0" width="1" height="25.0" fill="#000"/>
<rect x="1012.5" y="230.5" width="4" height="9.0" fill="#fff" stroke="#000" stroke-width="1"/>
<rect x="1022" y="215.0" width="1" height="34.0" fill="#000"/>
<rect x="1020" y="229.0" width="5" height="17.0" fill="#000"/>
<rect x="1030" y="162.0" width="1" height="106.0" fill="#000"/>
<rect x="1028.5" y="167.5" width="4" height="78.0" fill="#fff" stroke="#000" stroke-width="1"/>
<rect x="1038" y="165.0" width="1" height="28.0" fill="#000"/>
<rect x="1036" y="166.0" width="5" height="9.0" fill="#000"/>
<rect x="1046" y="170.0" width="1" height="18.0" fill="#000"/>
<rect x="1044" y="173.0" width="5" height="8.0" fill="#000"/>
<rect x="1054" y="169.0" width="1" height="32.0" fill="#000"/>
<rect x="1052" y="178.0" width="5" height="9.0" fill="#000"/>
<rect x="1062" y="179.0" width="1" height="27.0" fill="#000"/>
<rect x="1060" y="186.0" width="5" height="1" fill="#000"/>
<rect x="1070" y="145.0" width="1" height="45.0" fill="#000"/>
<rect x="1068.5" y="149.5" width="4" height="36.0" fill="#fff" stroke="#000" stroke-width="1"/>
<rect x="1078" y="124.0" width="1" height="41.0" fill="#000"/>
<rect x="1076.5" y="127.5" width="4" height="21.0" fill="#fff" stroke="#000" stroke-width="1"/>
<rect x="1086" y="126.0" width="1" height="84.0" fill="#000"/>
<rect x="1084" y="127.0" width="5" height="79.0" fill="#000"/>
<rect x="1094" y="201.0" width="1" height="19.0" fill="#000"/>
<rect x="1092" y="204.0" width="5" height="6.0" fill="#000"/>
<rect x="1102" y="208.0" width="1" height="54.0" fill="#000"/>
<rect x="1100" y="209.0" width="5" height="48.0" fill="#000"/>
<rect x="1110" y="255.0" width="1" height="62.0" fill="#000"/>
<rect x="1108" y="256.0" width="5" height="59.0" fill="#000"/>
<rect x="1118" y="279.0" width="1" height="53.0" fill="#000"/>
<rect x="1116.5" y="294.5" width="4" height="20.0" fill="#fff" stroke="#000" stroke-width="1"/>
<rect x="1126" y="273.0" width="1" height="53.0" fill="#000"/>
<rect x="1124" y="294.0" width="5" height="18.0" fill="#000"/>
<rect x="1134" y="286.0" width="1" height="30.0" fill="#000"/>
<rect x="1132.5" y="299.5" width="4" height="12.0" fill="#fff" stroke="#000" stroke-width="1"/>
<rect x="1142" y="295.0" width="1" height="15.0" fill="#000"/>
<rect x="1140" y="300.0" width="5" height="5.0" fill="#000"/>
<rect x="1150" y="279.0" width="1" height="27.0" fill="#000"/>
<rect x="1148.5" y="298.5" width="4" height="7.0" fill="#fff" stroke="#000" stroke-width="1"/>
<rect x="1158" y="298.0" width="1" height="27.0" fill="#000"/>
<rect x="1156" y="298.0" width="5" height="21.0" fill="#000"/>
<rect x="1166" y="306.0" width="1" height="31.0" fill="#000"/>
<rect x="1164.5" y="315.5" width="4" height="3.0" fill="#fff" stroke="#000" stroke-width="1"/>
<rect x="1174" y="284.0" width="1" height="74.0" fill="#000"/>
<rect x="1172.5" y="300.5" width="4" height="16.0" fill="#fff" stroke="#000" stroke-width="1"/>
<rect x="1182" y="262.0" width="1" height="42.0" fill="#000"/>
<rect x="1180.5" y="267.5" width="4" height="34.0" fill="#fff" stroke="#000" stroke-width="1"/>
<rect x="1190" y="268.0" width="1" height="21.0" fill="#000"/>
<rect x="1188" y="277.0" width="5" height="1" fill="#000"/>
<rect x="1198" y="246.0" width="1" height="36.0" fill="#000"/>
<rect x="1196.5" y="259.5" width="4" height="20.0" fill="#fff" stroke="#000" stroke-width="1"/>
<rect x="1206" y="241.0" width="1" height="22.0" fill="#000"/>
<rect x="1204.5" y="248.5" width="4" height="10.0" fill="#fff" stroke="#000" stroke-width="1"/>
<rect x="1214" y="238.0" width="1" height="44.0" fill="#000"/>
<rect x="1212" y="247.0" width="5" height="11.0" fill="#000"/>
<rect x="1222" y="253.0" width="1" height="73.0" fill="#000"/>
<rect x="1220" y="256.0" width="5" height="50.0" fill="#000"/>
<rect x="1230" y="284.0" width="1" height="31.0" fill="#000"/>
<rect x="1228.5" y="291.5" width="4" height="16.0" fill="#fff" stroke="#000" stroke-width="1"/>
<rect x="1238" y="273.0" width="1" height="31.0" fill="#000"/>
<rect x="1236.5" y="275.5" width="4" height="16.0" fill="#fff" stroke="#000" stroke-width="1"/>
<rect x="1246" y="248.0" width="1" height="38.0" fill="#000"/>
<rect x="1244.5" y="260.5" width="4" height="14.0" fill="#fff" stroke="#000" stroke-width="1"/>
<rect x="1254" y="260.0" width="1" height="37.0" fill="#000"/>
<rect x="1252" y="260.0" width="5" height="1" fill="#000"/>
<rect x="1262" y="253.0" width="1" height="34.0" fill="#000"/>
<rect x="1260" y="259.0" width="5" height="19.0" fill="#000"/>
<rect x="1270" y="269.0" width="1" height="49.0" fill="#000"/>
<rect x="1268" y="277.0" width="5" height="1" fill="#000"/>
<rect x="1278" y="220.0" width="1" height="56.0" fill="#000"/>
<rect x="1276.5" y="229.5" width="4" height="46.0" fill="#fff" stroke="#000" stroke-width="1"/>
<rect x="1286" y="219.0" width="1" height="13.0" fill="#000"/>
<rect x="1284.5" y="227.5" width="4" height="2.0" fill="#fff" stroke="#000" stroke-width="1"/>
<rect x="1294" y="210.0" width="1" height="25.0" fill="#000"/>
<rect x="1292.5" y="211.5" width="4" height="16.0" fill="#fff" stroke="#000" stroke-width="1"/>
<rect x="1302" y="204.0" width="1" height="37.0" fill="#000"/>
<rect x="1300" y="211.0" width="5" height="24.0" fill="#000"/>
<rect x="1310" y="220.0" width="1" height="22.0" fill="#000"/>
<rect x="1308.5" y="225.5" width="4" height="9.0" fill="#fff" stroke="#000" stroke-width="1"/>
<rect x="1318" y="109.0" width="1" height="121.0" fill="#000"/>
<rect x="1316.5" y="127.5" width="4" height="98.0" fill="#fff" stroke="#000" stroke-width="1"/>
<rect x="1326" y="92.0" width="1" height="44.0" fill="#000"/>
<rect x="1324.5" y="92.5" width="4" height="42.0" fill="#fff" stroke="#000" stroke-width="1"/>
<rect x="1334" y="91.0" width="1" height="20.0" fill="#000"/>
<rect x="1332" y="92.0" width="5" height="18.0" fill="#000"/>
<rect x="1342" y="96.0" width="1" height="27.0" fill="#000"/>
<rect x="1340.5" y="98.5" width="4" height="13.0" fill="#fff" stroke="#000" stroke-width="1"/>
<rect x="1350" y="73.0" width="1" height="40.0" fill="#000"/>
<rect x="1348.5" y="77.5" width="4" height="21.0" fill="#fff" stroke="#000" stroke-width="1"/>
<rect x="1358" y="55.0" width="1" height="27.0" fill="#000"/>
<rect x="1356" y="78.0" width="5" height="1" fill="#000"/>
<rect x="1366" y="58.0" width="1" height="43.0" fill="#000"/>
<rect x="1364" y="78.0" width="5" height="4.0" fill="#000"/>
<rect x="1374" y="71.0" width="1" height="37.0" fill="#000"/>
<rect x="1372" y="81.0" width="5" height="15.0" fill="#000"/>
<rect x="1382" y="95.0" width="1" height="18.0" fill="#000"/>
<rect x="1380" y="95.0" width="5" height="18.0" fill="#000"/>
</g>
</g>
<g clip-path="url(#cmacd)">
<g shape-rendering="crispEdges" fill="#c0c0c0">
<rect x="6" y="660" width="1" height="84"/>
<rect x="14" y="660" width="1" height="80"/>
<rect x="22" y="660" width="1" height="72"/>
<rect x="30" y="660" width="1" height="69"/>
<rect x="38" y="660" width="1" height="63"/>
<rect x="46" y="660" width="1" height="55"/>
<rect x="54" y="660" width="1" height="42"/>
<rect x="62" y="660" width="1" height="30"/>
<rect x="70" y="660" width="1" height="18"/>
<rect x="78" y="660" width="1" height="8"/>
<rect x="94" y="650" width="1" height="11"/>
<rect x="102" y="643" width="1" height="18"/>
<rect x="110" y="637" width="1" height="24"/>
<rect x="118" y="628" width="1" height="33"/>
<rect x="126" y="618" width="1" height="43"/>
<rect x="134" y="612" width="1" height="49"/>
<rect x="142" y="609" width="1" height="52"/>
<rect x="150" y="606" width="1" height="55"/>
<rect x="158" y="610" width="1" height="51"/>
<rect x="166" y="612" width="1" height="49"/>
<rect x="174" y="619" width="1" height="42"/>
<rect x="182" y="619" width="1" height="42"/>
<rect x="190" y="620" width="1" height="41"/>
<rect x="198" y="621" width="1" height="40"/>
<rect x="206" y="620" width="1" height="41"/>
<rect x="214" y="620" width="1" height="41"/>
<rect x="222" y="620" width="1" height="41"/>
<rect x="230" y="620" width="1" height="41"/>
<rect x="238" y="620" width="1" height="41"/>
<rect x="246" y="625" width="1" height="36"/>
<rect x="254" y="631" width="1" height="30"/>
<rect x="262" y="640" width="1" height="21"/>
<rect x="270" y="644" width="1" height="17"/>
<rect x="278" y="648" width="1" height="13"/>
<rect x="286" y="658" width="1" height="3"/>
<rect x="310" y="660" width="1" height="2"/>
<rect x="318" y="660" width="1" height="8"/>
<rect x="326" y="660" width="1" height="12"/>
<rect x="334" y="660" width="1" height="14"/>
<rect x="342" y="660" width="1" height="14"/>
<rect x="350" y="660" width="1" height="10"/>
<rect x="358" y="660" width="1" height="8"/>
<rect x="366" y="660" width="1" height="4"/>
<rect x="382" y="653" width="1" height="8"/>
<rect x="390" y="647" width="1" height="14"/>
<rect x="398" y="635" width="1" height="26"/>
<rect x="406" y="629" width="1" height="32"/>
<rect x="414" y="629" width="1" height="32"/>
<rect x="422" y="628" width="1" height="33"/>
<rect x="430" y="631" width="1" height="30"/>
<rect x="438" y="634" width="1" height="27"/>
<rect x="446" y="636" width="1" height="25"/>
<rect x="454" y="640" width="1" height="21"/>
<rect x="462" y="646" width="1" height="15"/>
<rect x="470" y="655" width="1" height="6"/>
<rect x="486" y="660" width="1" height="10"/>
<rect x="494" y="660" width="1" height="15"/>
<rect x="502" y="660" width="1" height="19"/>
<rect x="510" y="660" width="1" height="20"/>
<rect x="518" y="660" width="1" height="22"/>
<rect x="526" y="660" width="1" height="22"/>
<rect x="534" y="660" width="1" height="23"/>
<rect x="542" y="660" width="1" height="19"/>
<rect x="550" y="660" width="1" height="15"/>
<rect x="558" y="660" width="1" height="8"/>
<rect x="566" y="660" width="1" height="4"/>
<rect x="574" y="660" width="1" height="4"/>
<rect x="582" y="660" width="1" height="2"/>
<rect x="590" y="657" width="1" height="4"/>
<rect x="598" y="644" width="1" height="17"/>
<rect x="606" y="633" width="1" height="28"/>
<rect x="614" y="624" width="1" height="37"/>
<rect x="622" y="619" width="1" height="42"/>
<rect x="630" y="612" width="1" height="49"/>
<rect x="638" y="604" width="1" height="57"/>
<rect x="646" y="598" width="1" height="63"/>
<rect x="654" y="593" width="1" height="68"/>
<rect x="662" y="593" width="1" height="68"/>
<rect x="670" y="594" width="1" height="67"/>
<rect x="678" y="595" width="1" height="66"/>
<rect x="686" y="596" width="1" height="65"/>
<rect x="694" y="600" width="1" height="61"/>
<rect x="702" y="603" width="1" height="58"/>
<rect x="710" y="605" width="1" height="56"/>
<rect x="718" y="606" width="1" height="55"/>
<rect x="726" y="610" width="1" height="51"/>
<rect x="734" y="615" width="1" height="46"/>
<rect x="742" y="616" width="1" height="45"/>
<rect x="750" y="616" width="1" height="45"/>
<rect x="758" y="618" width="1" height="43"/>
<rect x="766" y="620" width="1" height="41"/>
<rect x="774" y="622" width="1" height="39"/>
<rect x="782" y="621" width="1" height="40"/>
<rect x="790" y="625" width="1" height="36"/>
<rect x="798" y="628" width="1" height="33"/>
<rect x="806" y="631" width="1" height="30"/>
<rect x="814" y="633" width="1" height="28"/>
<rect x="822" y="635" width="1" height="26"/>
<rect x="830" y="638" width="1" height="23"/>
<rect x="838" y="635" width="1" height="26"/>
<rect x="846" y="634" width="1" height="27"/>
<rect x="854" y="632" width="1" height="29"/>
<rect x="862" y="632" width="1" height="29"/>
<rect x="870" y="632" width="1" height="29"/>
<rect x="878" y="629" width="1" height="32"/>
<rect x="886" y="630" width="1" height="31"/>
<rect x="894" y="631" width="1" height="30"/>
<rect x="902" y="634" width="1" height="27"/>
<rect x="910" y="634" width="1" height="27"/>
<rect x="918" y="634" width="1" height="27"/>
<rect x="926" y="638" width="1" height="23"/>
<rect x="934" y="636" width="1" height="25"/>
<rect x="942" y="634" width="1" height="27"/>
<rect x="950" y="634" width="1" height="27"/>
<rect x="958" y="638" width="1" height="23"/>
<rect x="966" y="640" width="1" height="21"/>
<rect x="974" y="643" width="1" height="18"/>
<rect x="982" y="658" width="1" height="3"/>
<rect x="990" y="660" width="1" height="8"/>
<rect x="998" y="660" width="1" height="14"/>
<rect x="1006" y="660" width="1" height="19"/>
<rect x="1014" y="660" width="1" height="20"/>
<rect x="1022" y="660" width="1" height="24"/>
<rect x="1030" y="660" width="1" height="18"/>
<rect x="1038" y="660" width="1" height="12"/>
<rect x="1046" y="660" width="1" height="9"/>
<rect x="1054" y="660" width="1" height="7"/>
<rect x="1062" y="660" width="1" height="6"/>
<rect x="1078" y="654" width="1" height="7"/>
<rect x="1086" y="658" width="1" height="3"/>
<rect x="1102" y="660" width="1" height="8"/>
<rect x="1110" y="660" width="1" height="22"/>
<rect x="1118" y="660" width="1" height="29"/>
<rect x="1126" y="660" width="1" height="37"/>
<rect x="1134" y="660" width="1" height="42"/>
<rect x="1142" y="660" width="1" height="44"/>
<rect x="1150" y="660" width="1" height="46"/>
<rect x="1158" y="660" width="1" height="49"/>
<rect x="1166" y="660" width="1" height="50"/>
<rect x="1174" y="660" width="1" height="50"/>
<rect x="1182" y="660" width="1" height="44"/>
<rect x="1190" y="660" width="1" height="40"/>
<rect x="1198" y="660" width="1" height="34"/>
<rect x="1206" y="660" width="1" height="29"/>
<rect x="1214" y="660" width="1" height="24"/>
<rect x="1222" y="660" width="1" height="28"/>
<rect x="1230" y="660" width="1" height="28"/>
<rect x="1238" y="660" width="1" height="24"/>
<rect x="1246" y="660" width="1" height="20"/>
<rect x="1254" y="660" width="1" height="18"/>
<rect x="1262" y="660" width="1" height="16"/>
<rect x="1270" y="660" width="1" height="16"/>
<rect x="1278" y="660" width="1" height="10"/>
<rect x="1286" y="660" width="1" height="4"/>
<rect x="1302" y="657" width="1" height="4"/>
<rect x="1310" y="654" width="1" height="7"/>
<rect x="1318" y="641" width="1" height="20"/>
<rect x="1326" y="626" width="1" height="35"/>
<rect x="1334" y="615" width="1" height="46"/>
<rect x="1342" y="607" width="1" height="54"/>
<rect x="1350" y="599" width="1" height="62"/>
<rect x="1358" y="592" width="1" height="69"/>
<rect x="1366" y="592" width="1" height="69"/>
<rect x="1374" y="592" width="1" height="69"/>
<rect x="1382" y="598" width="1" height="63"/>
</g>
<path d="M0.0,721.0 C0.7,721.5 -1.5,720.6 2.5,723.0 C6.5,725.4 9.0,727.3 15.0,730.0 C21.0,732.7 18.3,731.7 25.0,733.0 C31.7,734.3 33.3,735.3 40.0,735.0 C46.7,734.7 44.7,734.4 50.0,732.0 C55.3,729.6 53.3,731.6 60.0,726.0 C66.7,720.4 67.0,719.5 75.0,711.0 C83.0,702.5 82.0,702.9 90.0,694.0 C98.0,685.1 97.0,686.7 105.0,677.5 C113.0,668.3 112.0,669.2 120.0,659.5 C128.0,649.8 127.0,649.2 135.0,641.0 C143.0,632.8 142.0,634.4 150.0,628.8 C158.0,623.1 157.0,623.7 165.0,620.0 C173.0,616.3 171.3,616.9 180.0,615.0 C188.7,613.1 188.2,612.9 197.5,613.0 C206.8,613.1 206.3,614.0 215.0,615.5 C223.7,617.0 221.3,617.5 230.0,618.8 C238.7,620.0 238.8,618.7 247.5,620.0 C256.2,621.3 253.8,620.8 262.5,623.8 C271.2,626.8 271.3,627.2 280.0,631.2 C288.7,635.2 286.3,634.1 295.0,638.8 C303.7,643.4 303.2,643.2 312.5,648.8 C321.8,654.3 321.3,655.2 330.0,659.5 C338.7,663.8 337.7,662.7 345.0,665.0 C352.3,667.3 350.8,667.0 357.5,668.0 C364.2,669.0 363.3,669.2 370.0,668.8 C376.7,668.3 375.8,667.6 382.5,666.2 C389.2,664.9 387.7,667.1 395.0,663.8 C402.3,660.4 402.7,658.6 410.0,653.8 C417.3,648.9 417.2,648.8 422.5,645.5 C427.8,642.2 425.3,643.5 430.0,641.2 C434.7,639.0 434.7,639.0 440.0,637.0 C445.3,635.0 444.0,634.8 450.0,633.8 C456.0,632.8 455.8,632.1 462.5,633.2 C469.2,634.4 468.3,635.0 475.0,638.0 C481.7,641.0 480.2,639.6 487.5,644.5 C494.8,649.4 495.2,651.1 502.5,656.2 C509.8,661.4 508.3,660.0 515.0,663.8 C521.7,667.5 520.8,667.2 527.5,670.5 C534.2,673.8 533.3,673.9 540.0,676.2 C546.7,678.6 545.8,679.0 552.5,679.5 C559.2,680.0 558.3,679.2 565.0,678.0 C571.7,676.8 570.8,677.0 577.5,675.0 C584.2,673.0 583.3,673.8 590.0,670.5 C596.7,667.2 595.8,667.3 602.5,662.5 C609.2,657.7 607.7,658.0 615.0,652.5 C622.3,647.0 622.0,648.7 630.0,642.0 C638.0,635.3 637.0,635.0 645.0,627.5 C653.0,620.0 652.7,619.8 660.0,613.8 C667.3,607.8 665.8,609.0 672.5,605.0 C679.2,601.0 677.7,600.9 685.0,598.8 C692.3,596.6 691.3,597.5 700.0,597.0 C708.7,596.5 709.5,596.1 717.5,597.0 C725.5,597.9 722.7,598.5 730.0,600.5 C737.3,602.5 737.0,602.1 745.0,604.5 C753.0,606.9 752.0,607.0 760.0,609.5 C768.0,612.0 767.0,611.6 775.0,613.8 C783.0,615.9 782.0,615.7 790.0,617.5 C798.0,619.3 797.0,618.6 805.0,620.5 C813.0,622.4 812.0,622.3 820.0,624.5 C828.0,626.7 825.7,626.8 835.0,628.8 C844.3,630.8 845.7,631.0 855.0,632.0 C864.3,633.0 860.7,632.6 870.0,632.5 C879.3,632.4 876.7,631.7 890.0,631.5 C903.3,631.3 906.7,631.4 920.0,631.8 C933.3,632.1 929.3,632.3 940.0,633.0 C950.7,633.7 950.7,633.4 960.0,634.5 C969.3,635.6 967.0,635.0 975.0,637.0 C983.0,639.0 982.7,638.9 990.0,642.0 C997.3,645.1 995.8,644.5 1002.5,648.8 C1009.2,653.0 1007.7,653.0 1015.0,658.0 C1022.3,663.0 1022.0,663.3 1030.0,667.5 C1038.0,671.7 1037.0,671.6 1045.0,673.8 C1053.0,675.9 1052.7,675.7 1060.0,675.5 C1067.3,675.3 1065.8,675.0 1072.5,673.0 C1079.2,671.0 1077.7,670.3 1085.0,668.0 C1092.3,665.7 1092.0,665.0 1100.0,664.5 C1108.0,664.0 1107.0,664.5 1115.0,666.2 C1123.0,668.0 1122.0,667.0 1130.0,671.2 C1138.0,675.5 1137.0,675.7 1145.0,682.0 C1153.0,688.3 1152.0,689.7 1160.0,695.0 C1168.0,700.3 1167.0,699.2 1175.0,702.0 C1183.0,704.8 1182.0,705.0 1190.0,705.5 C1198.0,706.0 1196.2,705.5 1205.0,703.8 C1213.8,702.0 1214.1,701.5 1223.0,699.1 C1231.9,696.7 1230.1,697.8 1238.3,694.9 C1246.5,692.0 1245.9,691.3 1253.6,688.2 C1261.3,685.1 1259.3,685.7 1267.0,683.4 C1274.7,681.1 1273.6,682.7 1282.3,679.6 C1291.0,676.5 1290.9,676.0 1299.6,671.9 C1308.3,667.8 1307.8,668.0 1314.9,664.3 C1322.0,660.6 1320.3,661.9 1326.4,658.1 C1332.5,654.3 1330.8,655.9 1337.9,649.9 C1345.0,643.9 1345.5,642.9 1353.2,635.5 C1360.9,628.1 1359.2,629.4 1366.6,622.1 C1374.0,614.8 1377.2,612.0 1381.0,608.3" fill="none" stroke="#ff0000" stroke-width="1" stroke-dasharray="3,3" shape-rendering="crispEdges"/>
</g>
<g clip-path="url(#crsi)">
<g shape-rendering="crispEdges" fill="#c0c0c0">
<rect x="3" y="790" width="3" height="1"/>
<rect x="9" y="790" width="3" height="1"/>
<rect x="15" y="790" width="3" height="1"/>
<rect x="21" y="790" width="3" height="1"/>
<rect x="27" y="790" width="3" height="1"/>
<rect x="33" y="790" width="3" height="1"/>
<rect x="39" y="790" width="3" height="1"/>
<rect x="45" y="790" width="3" height="1"/>
<rect x="51" y="790" width="3" height="1"/>
<rect x="57" y="790" width="3" height="1"/>
<rect x="63" y="790" width="3" height="1"/>
<rect x="69" y="790" width="3" height="1"/>
<rect x="75" y="790" width="3" height="1"/>
<rect x="81" y="790" width="3" height="1"/>
<rect x="87" y="790" width="3" height="1"/>
<rect x="93" y="790" width="3" height="1"/>
<rect x="99" y="790" width="3" height="1"/>
<rect x="105" y="790" width="3" height="1"/>
<rect x="111" y="790" width="3" height="1"/>
<rect x="117" y="790" width="3" height="1"/>
<rect x="123" y="790" width="3" height="1"/>
<rect x="129" y="790" width="3" height="1"/>
<rect x="135" y="790" width="3" height="1"/>
<rect x="141" y="790" width="3" height="1"/>
<rect x="147" y="790" width="3" height="1"/>
<rect x="153" y="790" width="3" height="1"/>
<rect x="159" y="790" width="3" height="1"/>
<rect x="165" y="790" width="3" height="1"/>
<rect x="171" y="790" width="3" height="1"/>
<rect x="177" y="790" width="3" height="1"/>
<rect x="183" y="790" width="3" height="1"/>
<rect x="189" y="790" width="3" height="1"/>
<rect x="195" y="790" width="3" height="1"/>
<rect x="201" y="790" width="3" height="1"/>
<rect x="207" y="790" width="3" height="1"/>
<rect x="213" y="790" width="3" height="1"/>
<rect x="219" y="790" width="3" height="1"/>
<rect x="225" y="790" width="3" height="1"/>
<rect x="231" y="790" width="3" height="1"/>
<rect x="237" y="790" width="3" height="1"/>
<rect x="243" y="790" width="3" height="1"/>
<rect x="249" y="790" width="3" height="1"/>
<rect x="255" y="790" width="3" height="1"/>
<rect x="261" y="790" width="3" height="1"/>
<rect x="267" y="790" width="3" height="1"/>
<rect x="273" y="790" width="3" height="1"/>
<rect x="279" y="790" width="3" height="1"/>
<rect x="285" y="790" width="3" height="1"/>
<rect x="291" y="790" width="3" height="1"/>
<rect x="297" y="790" width="3" height="1"/>
<rect x="303" y="790" width="3" height="1"/>
<rect x="309" y="790" width="3" height="1"/>
<rect x="315" y="790" width="3" height="1"/>
<rect x="321" y="790" width="3" height="1"/>
<rect x="327" y="790" width="3" height="1"/>
<rect x="333" y="790" width="3" height="1"/>
<rect x="339" y="790" width="3" height="1"/>
<rect x="345" y="790" width="3" height="1"/>
<rect x="351" y="790" width="3" height="1"/>
<rect x="357" y="790" width="3" height="1"/>
<rect x="363" y="790" width="3" height="1"/>
<rect x="369" y="790" width="3" height="1"/>
<rect x="375" y="790" width="3" height="1"/>
<rect x="381" y="790" width="3" height="1"/>
<rect x="387" y="790" width="3" height="1"/>
<rect x="393" y="790" width="3" height="1"/>
<rect x="399" y="790" width="3" height="1"/>
<rect x="405" y="790" width="3" height="1"/>
<rect x="411" y="790" width="3" height="1"/>
<rect x="417" y="790" width="3" height="1"/>
<rect x="423" y="790" width="3" height="1"/>
<rect x="429" y="790" width="3" height="1"/>
<rect x="435" y="790" width="3" height="1"/>
<rect x="441" y="790" width="3" height="1"/>
<rect x="447" y="790" width="3" height="1"/>
<rect x="453" y="790" width="3" height="1"/>
<rect x="459" y="790" width="3" height="1"/>
<rect x="465" y="790" width="3" height="1"/>
<rect x="471" y="790" width="3" height="1"/>
<rect x="477" y="790" width="3" height="1"/>
<rect x="483" y="790" width="3" height="1"/>
<rect x="489" y="790" width="3" height="1"/>
<rect x="495" y="790" width="3" height="1"/>
<rect x="501" y="790" width="3" height="1"/>
<rect x="507" y="790" width="3" height="1"/>
<rect x="513" y="790" width="3" height="1"/>
<rect x="519" y="790" width="3" height="1"/>
<rect x="525" y="790" width="3" height="1"/>
<rect x="531" y="790" width="3" height="1"/>
<rect x="537" y="790" width="3" height="1"/>
<rect x="543" y="790" width="3" height="1"/>
<rect x="549" y="790" width="3" height="1"/>
<rect x="555" y="790" width="3" height="1"/>
<rect x="561" y="790" width="3" height="1"/>
<rect x="567" y="790" width="3" height="1"/>
<rect x="573" y="790" width="3" height="1"/>
<rect x="579" y="790" width="3" height="1"/>
<rect x="585" y="790" width="3" height="1"/>
<rect x="591" y="790" width="3" height="1"/>
<rect x="597" y="790" width="3" height="1"/>
<rect x="603" y="790" width="3" height="1"/>
<rect x="609" y="790" width="3" height="1"/>
<rect x="615" y="790" width="3" height="1"/>
<rect x="621" y="790" width="3" height="1"/>
<rect x="627" y="790" width="3" height="1"/>
<rect x="633" y="790" width="3" height="1"/>
<rect x="639" y="790" width="3" height="1"/>
<rect x="645" y="790" width="3" height="1"/>
<rect x="651" y="790" width="3" height="1"/>
<rect x="657" y="790" width="3" height="1"/>
<rect x="663" y="790" width="3" height="1"/>
<rect x="669" y="790" width="3" height="1"/>
<rect x="675" y="790" width="3" height="1"/>
<rect x="681" y="790" width="3" height="1"/>
<rect x="687" y="790" width="3" height="1"/>
<rect x="693" y="790" width="3" height="1"/>
<rect x="699" y="790" width="3" height="1"/>
<rect x="705" y="790" width="3" height="1"/>
<rect x="711" y="790" width="3" height="1"/>
<rect x="717" y="790" width="3" height="1"/>
<rect x="723" y="790" width="3" height="1"/>
<rect x="729" y="790" width="3" height="1"/>
<rect x="735" y="790" width="3" height="1"/>
<rect x="741" y="790" width="3" height="1"/>
<rect x="747" y="790" width="3" height="1"/>
<rect x="753" y="790" width="3" height="1"/>
<rect x="759" y="790" width="3" height="1"/>
<rect x="765" y="790" width="3" height="1"/>
<rect x="771" y="790" width="3" height="1"/>
<rect x="777" y="790" width="3" height="1"/>
<rect x="783" y="790" width="3" height="1"/>
<rect x="789" y="790" width="3" height="1"/>
<rect x="795" y="790" width="3" height="1"/>
<rect x="801" y="790" width="3" height="1"/>
<rect x="807" y="790" width="3" height="1"/>
<rect x="813" y="790" width="3" height="1"/>
<rect x="819" y="790" width="3" height="1"/>
<rect x="825" y="790" width="3" height="1"/>
<rect x="831" y="790" width="3" height="1"/>
<rect x="837" y="790" width="3" height="1"/>
<rect x="843" y="790" width="3" height="1"/>
<rect x="849" y="790" width="3" height="1"/>
<rect x="855" y="790" width="3" height="1"/>
<rect x="861" y="790" width="3" height="1"/>
<rect x="867" y="790" width="3" height="1"/>
<rect x="873" y="790" width="3" height="1"/>
<rect x="879" y="790" width="3" height="1"/>
<rect x="885" y="790" width="3" height="1"/>
<rect x="891" y="790" width="3" height="1"/>
<rect x="897" y="790" width="3" height="1"/>
<rect x="903" y="790" width="3" height="1"/>
<rect x="909" y="790" width="3" height="1"/>
<rect x="915" y="790" width="3" height="1"/>
<rect x="921" y="790" width="3" height="1"/>
<rect x="927" y="790" width="3" height="1"/>
<rect x="933" y="790" width="3" height="1"/>
<rect x="939" y="790" width="3" height="1"/>
<rect x="945" y="790" width="3" height="1"/>
<rect x="951" y="790" width="3" height="1"/>
<rect x="957" y="790" width="3" height="1"/>
<rect x="963" y="790" width="3" height="1"/>
<rect x="969" y="790" width="3" height="1"/>
<rect x="975" y="790" width="3" height="1"/>
<rect x="981" y="790" width="3" height="1"/>
<rect x="987" y="790" width="3" height="1"/>
<rect x="993" y="790" width="3" height="1"/>
<rect x="999" y="790" width="3" height="1"/>
<rect x="1005" y="790" width="3" height="1"/>
<rect x="1011" y="790" width="3" height="1"/>
<rect x="1017" y="790" width="3" height="1"/>
<rect x="1023" y="790" width="3" height="1"/>
<rect x="1029" y="790" width="3" height="1"/>
<rect x="1035" y="790" width="3" height="1"/>
<rect x="1041" y="790" width="3" height="1"/>
<rect x="1047" y="790" width="3" height="1"/>
<rect x="1053" y="790" width="3" height="1"/>
<rect x="1059" y="790" width="3" height="1"/>
<rect x="1065" y="790" width="3" height="1"/>
<rect x="1071" y="790" width="3" height="1"/>
<rect x="1077" y="790" width="3" height="1"/>
<rect x="1083" y="790" width="3" height="1"/>
<rect x="1089" y="790" width="3" height="1"/>
<rect x="1095" y="790" width="3" height="1"/>
<rect x="1101" y="790" width="3" height="1"/>
<rect x="1107" y="790" width="3" height="1"/>
<rect x="1113" y="790" width="3" height="1"/>
<rect x="1119" y="790" width="3" height="1"/>
<rect x="1125" y="790" width="3" height="1"/>
<rect x="1131" y="790" width="3" height="1"/>
<rect x="1137" y="790" width="3" height="1"/>
<rect x="1143" y="790" width="3" height="1"/>
<rect x="1149" y="790" width="3" height="1"/>
<rect x="1155" y="790" width="3" height="1"/>
<rect x="1161" y="790" width="3" height="1"/>
<rect x="1167" y="790" width="3" height="1"/>
<rect x="1173" y="790" width="3" height="1"/>
<rect x="1179" y="790" width="3" height="1"/>
<rect x="1185" y="790" width="3" height="1"/>
<rect x="1191" y="790" width="3" height="1"/>
<rect x="1197" y="790" width="3" height="1"/>
<rect x="1203" y="790" width="3" height="1"/>
<rect x="1209" y="790" width="3" height="1"/>
<rect x="1215" y="790" width="3" height="1"/>
<rect x="1221" y="790" width="3" height="1"/>
<rect x="1227" y="790" width="3" height="1"/>
<rect x="1233" y="790" width="3" height="1"/>
<rect x="1239" y="790" width="3" height="1"/>
<rect x="1245" y="790" width="3" height="1"/>
<rect x="1251" y="790" width="3" height="1"/>
<rect x="1257" y="790" width="3" height="1"/>
<rect x="1263" y="790" width="3" height="1"/>
<rect x="1269" y="790" width="3" height="1"/>
<rect x="1275" y="790" width="3" height="1"/>
<rect x="1281" y="790" width="3" height="1"/>
<rect x="1287" y="790" width="3" height="1"/>
<rect x="1293" y="790" width="3" height="1"/>
<rect x="1299" y="790" width="3" height="1"/>
<rect x="1305" y="790" width="3" height="1"/>
<rect x="1311" y="790" width="3" height="1"/>
<rect x="1317" y="790" width="3" height="1"/>
<rect x="1323" y="790" width="3" height="1"/>
<rect x="1329" y="790" width="3" height="1"/>
<rect x="1335" y="790" width="3" height="1"/>
<rect x="1341" y="790" width="3" height="1"/>
<rect x="1347" y="790" width="3" height="1"/>
<rect x="1353" y="790" width="3" height="1"/>
<rect x="1359" y="790" width="3" height="1"/>
<rect x="1365" y="790" width="3" height="1"/>
<rect x="1371" y="790" width="3" height="1"/>
<rect x="1377" y="790" width="3" height="1"/>
<rect x="1383" y="790" width="3" height="1"/>
<rect x="1389" y="790" width="3" height="1"/>
<rect x="1395" y="790" width="3" height="1"/>
<rect x="1401" y="790" width="3" height="1"/>
<rect x="1407" y="790" width="3" height="1"/>
<rect x="1413" y="790" width="3" height="1"/>
<rect x="1419" y="790" width="3" height="1"/>
<rect x="1425" y="790" width="3" height="1"/>
<rect x="1431" y="790" width="3" height="1"/>
<rect x="1437" y="790" width="3" height="1"/>
<rect x="1443" y="790" width="3" height="1"/>
<rect x="1449" y="790" width="3" height="1"/>
<rect x="1455" y="790" width="3" height="1"/>
<rect x="1461" y="790" width="3" height="1"/>
<rect x="1467" y="790" width="3" height="1"/>
<rect x="1473" y="790" width="3" height="1"/>
<rect x="1479" y="790" width="3" height="1"/>
<rect x="1485" y="790" width="3" height="1"/>
<rect x="1491" y="790" width="3" height="1"/>
<rect x="1497" y="790" width="3" height="1"/>
<rect x="1503" y="790" width="3" height="1"/>
<rect x="1509" y="790" width="3" height="1"/>
<rect x="1515" y="790" width="3" height="1"/>
<rect x="1521" y="790" width="3" height="1"/>
<rect x="1527" y="790" width="3" height="1"/>
<rect x="1533" y="790" width="3" height="1"/>
<rect x="1539" y="790" width="3" height="1"/>
<rect x="1545" y="790" width="3" height="1"/>
<rect x="1551" y="790" width="3" height="1"/>
<rect x="1557" y="790" width="3" height="1"/>
<rect x="1563" y="790" width="3" height="1"/>
<rect x="1569" y="790" width="3" height="1"/>
<rect x="1575" y="790" width="3" height="1"/>
<rect x="1581" y="790" width="3" height="1"/>
<rect x="1587" y="790" width="3" height="1"/>
<rect x="1593" y="790" width="3" height="1"/>
<rect x="1599" y="790" width="3" height="1"/>
<rect x="1605" y="790" width="3" height="1"/>
<rect x="1611" y="790" width="3" height="1"/>
<rect x="1617" y="790" width="3" height="1"/>
<rect x="1623" y="790" width="3" height="1"/>
<rect x="1629" y="790" width="3" height="1"/>
<rect x="1635" y="790" width="3" height="1"/>
<rect x="1641" y="790" width="3" height="1"/>
<rect x="1647" y="790" width="3" height="1"/>
<rect x="3" y="841" width="3" height="1"/>
<rect x="9" y="841" width="3" height="1"/>
<rect x="15" y="841" width="3" height="1"/>
<rect x="21" y="841" width="3" height="1"/>
<rect x="27" y="841" width="3" height="1"/>
<rect x="33" y="841" width="3" height="1"/>
<rect x="39" y="841" width="3" height="1"/>
<rect x="45" y="841" width="3" height="1"/>
<rect x="51" y="841" width="3" height="1"/>
<rect x="57" y="841" width="3" height="1"/>
<rect x="63" y="841" width="3" height="1"/>
<rect x="69" y="841" width="3" height="1"/>
<rect x="75" y="841" width="3" height="1"/>
<rect x="81" y="841" width="3" height="1"/>
<rect x="87" y="841" width="3" height="1"/>
<rect x="93" y="841" width="3" height="1"/>
<rect x="99" y="841" width="3" height="1"/>
<rect x="105" y="841" width="3" height="1"/>
<rect x="111" y="841" width="3" height="1"/>
<rect x="117" y="841" width="3" height="1"/>
<rect x="123" y="841" width="3" height="1"/>
<rect x="129" y="841" width="3" height="1"/>
<rect x="135" y="841" width="3" height="1"/>
<rect x="141" y="841" width="3" height="1"/>
<rect x="147" y="841" width="3" height="1"/>
<rect x="153" y="841" width="3" height="1"/>
<rect x="159" y="841" width="3" height="1"/>
<rect x="165" y="841" width="3" height="1"/>
<rect x="171" y="841" width="3" height="1"/>
<rect x="177" y="841" width="3" height="1"/>
<rect x="183" y="841" width="3" height="1"/>
<rect x="189" y="841" width="3" height="1"/>
<rect x="195" y="841" width="3" height="1"/>
<rect x="201" y="841" width="3" height="1"/>
<rect x="207" y="841" width="3" height="1"/>
<rect x="213" y="841" width="3" height="1"/>
<rect x="219" y="841" width="3" height="1"/>
<rect x="225" y="841" width="3" height="1"/>
<rect x="231" y="841" width="3" height="1"/>
<rect x="237" y="841" width="3" height="1"/>
<rect x="243" y="841" width="3" height="1"/>
<rect x="249" y="841" width="3" height="1"/>
<rect x="255" y="841" width="3" height="1"/>
<rect x="261" y="841" width="3" height="1"/>
<rect x="267" y="841" width="3" height="1"/>
<rect x="273" y="841" width="3" height="1"/>
<rect x="279" y="841" width="3" height="1"/>
<rect x="285" y="841" width="3" height="1"/>
<rect x="291" y="841" width="3" height="1"/>
<rect x="297" y="841" width="3" height="1"/>
<rect x="303" y="841" width="3" height="1"/>
<rect x="309" y="841" width="3" height="1"/>
<rect x="315" y="841" width="3" height="1"/>
<rect x="321" y="841" width="3" height="1"/>
<rect x="327" y="841" width="3" height="1"/>
<rect x="333" y="841" width="3" height="1"/>
<rect x="339" y="841" width="3" height="1"/>
<rect x="345" y="841" width="3" height="1"/>
<rect x="351" y="841" width="3" height="1"/>
<rect x="357" y="841" width="3" height="1"/>
<rect x="363" y="841" width="3" height="1"/>
<rect x="369" y="841" width="3" height="1"/>
<rect x="375" y="841" width="3" height="1"/>
<rect x="381" y="841" width="3" height="1"/>
<rect x="387" y="841" width="3" height="1"/>
<rect x="393" y="841" width="3" height="1"/>
<rect x="399" y="841" width="3" height="1"/>
<rect x="405" y="841" width="3" height="1"/>
<rect x="411" y="841" width="3" height="1"/>
<rect x="417" y="841" width="3" height="1"/>
<rect x="423" y="841" width="3" height="1"/>
<rect x="429" y="841" width="3" height="1"/>
<rect x="435" y="841" width="3" height="1"/>
<rect x="441" y="841" width="3" height="1"/>
<rect x="447" y="841" width="3" height="1"/>
<rect x="453" y="841" width="3" height="1"/>
<rect x="459" y="841" width="3" height="1"/>
<rect x="465" y="841" width="3" height="1"/>
<rect x="471" y="841" width="3" height="1"/>
<rect x="477" y="841" width="3" height="1"/>
<rect x="483" y="841" width="3" height="1"/>
<rect x="489" y="841" width="3" height="1"/>
<rect x="495" y="841" width="3" height="1"/>
<rect x="501" y="841" width="3" height="1"/>
<rect x="507" y="841" width="3" height="1"/>
<rect x="513" y="841" width="3" height="1"/>
<rect x="519" y="841" width="3" height="1"/>
<rect x="525" y="841" width="3" height="1"/>
<rect x="531" y="841" width="3" height="1"/>
<rect x="537" y="841" width="3" height="1"/>
<rect x="543" y="841" width="3" height="1"/>
<rect x="549" y="841" width="3" height="1"/>
<rect x="555" y="841" width="3" height="1"/>
<rect x="561" y="841" width="3" height="1"/>
<rect x="567" y="841" width="3" height="1"/>
<rect x="573" y="841" width="3" height="1"/>
<rect x="579" y="841" width="3" height="1"/>
<rect x="585" y="841" width="3" height="1"/>
<rect x="591" y="841" width="3" height="1"/>
<rect x="597" y="841" width="3" height="1"/>
<rect x="603" y="841" width="3" height="1"/>
<rect x="609" y="841" width="3" height="1"/>
<rect x="615" y="841" width="3" height="1"/>
<rect x="621" y="841" width="3" height="1"/>
<rect x="627" y="841" width="3" height="1"/>
<rect x="633" y="841" width="3" height="1"/>
<rect x="639" y="841" width="3" height="1"/>
<rect x="645" y="841" width="3" height="1"/>
<rect x="651" y="841" width="3" height="1"/>
<rect x="657" y="841" width="3" height="1"/>
<rect x="663" y="841" width="3" height="1"/>
<rect x="669" y="841" width="3" height="1"/>
<rect x="675" y="841" width="3" height="1"/>
<rect x="681" y="841" width="3" height="1"/>
<rect x="687" y="841" width="3" height="1"/>
<rect x="693" y="841" width="3" height="1"/>
<rect x="699" y="841" width="3" height="1"/>
<rect x="705" y="841" width="3" height="1"/>
<rect x="711" y="841" width="3" height="1"/>
<rect x="717" y="841" width="3" height="1"/>
<rect x="723" y="841" width="3" height="1"/>
<rect x="729" y="841" width="3" height="1"/>
<rect x="735" y="841" width="3" height="1"/>
<rect x="741" y="841" width="3" height="1"/>
<rect x="747" y="841" width="3" height="1"/>
<rect x="753" y="841" width="3" height="1"/>
<rect x="759" y="841" width="3" height="1"/>
<rect x="765" y="841" width="3" height="1"/>
<rect x="771" y="841" width="3" height="1"/>
<rect x="777" y="841" width="3" height="1"/>
<rect x="783" y="841" width="3" height="1"/>
<rect x="789" y="841" width="3" height="1"/>
<rect x="795" y="841" width="3" height="1"/>
<rect x="801" y="841" width="3" height="1"/>
<rect x="807" y="841" width="3" height="1"/>
<rect x="813" y="841" width="3" height="1"/>
<rect x="819" y="841" width="3" height="1"/>
<rect x="825" y="841" width="3" height="1"/>
<rect x="831" y="841" width="3" height="1"/>
<rect x="837" y="841" width="3" height="1"/>
<rect x="843" y="841" width="3" height="1"/>
<rect x="849" y="841" width="3" height="1"/>
<rect x="855" y="841" width="3" height="1"/>
<rect x="861" y="841" width="3" height="1"/>
<rect x="867" y="841" width="3" height="1"/>
<rect x="873" y="841" width="3" height="1"/>
<rect x="879" y="841" width="3" height="1"/>
<rect x="885" y="841" width="3" height="1"/>
<rect x="891" y="841" width="3" height="1"/>
<rect x="897" y="841" width="3" height="1"/>
<rect x="903" y="841" width="3" height="1"/>
<rect x="909" y="841" width="3" height="1"/>
<rect x="915" y="841" width="3" height="1"/>
<rect x="921" y="841" width="3" height="1"/>
<rect x="927" y="841" width="3" height="1"/>
<rect x="933" y="841" width="3" height="1"/>
<rect x="939" y="841" width="3" height="1"/>
<rect x="945" y="841" width="3" height="1"/>
<rect x="951" y="841" width="3" height="1"/>
<rect x="957" y="841" width="3" height="1"/>
<rect x="963" y="841" width="3" height="1"/>
<rect x="969" y="841" width="3" height="1"/>
<rect x="975" y="841" width="3" height="1"/>
<rect x="981" y="841" width="3" height="1"/>
<rect x="987" y="841" width="3" height="1"/>
<rect x="993" y="841" width="3" height="1"/>
<rect x="999" y="841" width="3" height="1"/>
<rect x="1005" y="841" width="3" height="1"/>
<rect x="1011" y="841" width="3" height="1"/>
<rect x="1017" y="841" width="3" height="1"/>
<rect x="1023" y="841" width="3" height="1"/>
<rect x="1029" y="841" width="3" height="1"/>
<rect x="1035" y="841" width="3" height="1"/>
<rect x="1041" y="841" width="3" height="1"/>
<rect x="1047" y="841" width="3" height="1"/>
<rect x="1053" y="841" width="3" height="1"/>
<rect x="1059" y="841" width="3" height="1"/>
<rect x="1065" y="841" width="3" height="1"/>
<rect x="1071" y="841" width="3" height="1"/>
<rect x="1077" y="841" width="3" height="1"/>
<rect x="1083" y="841" width="3" height="1"/>
<rect x="1089" y="841" width="3" height="1"/>
<rect x="1095" y="841" width="3" height="1"/>
<rect x="1101" y="841" width="3" height="1"/>
<rect x="1107" y="841" width="3" height="1"/>
<rect x="1113" y="841" width="3" height="1"/>
<rect x="1119" y="841" width="3" height="1"/>
<rect x="1125" y="841" width="3" height="1"/>
<rect x="1131" y="841" width="3" height="1"/>
<rect x="1137" y="841" width="3" height="1"/>
<rect x="1143" y="841" width="3" height="1"/>
<rect x="1149" y="841" width="3" height="1"/>
<rect x="1155" y="841" width="3" height="1"/>
<rect x="1161" y="841" width="3" height="1"/>
<rect x="1167" y="841" width="3" height="1"/>
<rect x="1173" y="841" width="3" height="1"/>
<rect x="1179" y="841" width="3" height="1"/>
<rect x="1185" y="841" width="3" height="1"/>
<rect x="1191" y="841" width="3" height="1"/>
<rect x="1197" y="841" width="3" height="1"/>
<rect x="1203" y="841" width="3" height="1"/>
<rect x="1209" y="841" width="3" height="1"/>
<rect x="1215" y="841" width="3" height="1"/>
<rect x="1221" y="841" width="3" height="1"/>
<rect x="1227" y="841" width="3" height="1"/>
<rect x="1233" y="841" width="3" height="1"/>
<rect x="1239" y="841" width="3" height="1"/>
<rect x="1245" y="841" width="3" height="1"/>
<rect x="1251" y="841" width="3" height="1"/>
<rect x="1257" y="841" width="3" height="1"/>
<rect x="1263" y="841" width="3" height="1"/>
<rect x="1269" y="841" width="3" height="1"/>
<rect x="1275" y="841" width="3" height="1"/>
<rect x="1281" y="841" width="3" height="1"/>
<rect x="1287" y="841" width="3" height="1"/>
<rect x="1293" y="841" width="3" height="1"/>
<rect x="1299" y="841" width="3" height="1"/>
<rect x="1305" y="841" width="3" height="1"/>
<rect x="1311" y="841" width="3" height="1"/>
<rect x="1317" y="841" width="3" height="1"/>
<rect x="1323" y="841" width="3" height="1"/>
<rect x="1329" y="841" width="3" height="1"/>
<rect x="1335" y="841" width="3" height="1"/>
<rect x="1341" y="841" width="3" height="1"/>
<rect x="1347" y="841" width="3" height="1"/>
<rect x="1353" y="841" width="3" height="1"/>
<rect x="1359" y="841" width="3" height="1"/>
<rect x="1365" y="841" width="3" height="1"/>
<rect x="1371" y="841" width="3" height="1"/>
<rect x="1377" y="841" width="3" height="1"/>
<rect x="1383" y="841" width="3" height="1"/>
<rect x="1389" y="841" width="3" height="1"/>
<rect x="1395" y="841" width="3" height="1"/>
<rect x="1401" y="841" width="3" height="1"/>
<rect x="1407" y="841" width="3" height="1"/>
<rect x="1413" y="841" width="3" height="1"/>
<rect x="1419" y="841" width="3" height="1"/>
<rect x="1425" y="841" width="3" height="1"/>
<rect x="1431" y="841" width="3" height="1"/>
<rect x="1437" y="841" width="3" height="1"/>
<rect x="1443" y="841" width="3" height="1"/>
<rect x="1449" y="841" width="3" height="1"/>
<rect x="1455" y="841" width="3" height="1"/>
<rect x="1461" y="841" width="3" height="1"/>
<rect x="1467" y="841" width="3" height="1"/>
<rect x="1473" y="841" width="3" height="1"/>
<rect x="1479" y="841" width="3" height="1"/>
<rect x="1485" y="841" width="3" height="1"/>
<rect x="1491" y="841" width="3" height="1"/>
<rect x="1497" y="841" width="3" height="1"/>
<rect x="1503" y="841" width="3" height="1"/>
<rect x="1509" y="841" width="3" height="1"/>
<rect x="1515" y="841" width="3" height="1"/>
<rect x="1521" y="841" width="3" height="1"/>
<rect x="1527" y="841" width="3" height="1"/>
<rect x="1533" y="841" width="3" height="1"/>
<rect x="1539" y="841" width="3" height="1"/>
<rect x="1545" y="841" width="3" height="1"/>
<rect x="1551" y="841" width="3" height="1"/>
<rect x="1557" y="841" width="3" height="1"/>
<rect x="1563" y="841" width="3" height="1"/>
<rect x="1569" y="841" width="3" height="1"/>
<rect x="1575" y="841" width="3" height="1"/>
<rect x="1581" y="841" width="3" height="1"/>
<rect x="1587" y="841" width="3" height="1"/>
<rect x="1593" y="841" width="3" height="1"/>
<rect x="1599" y="841" width="3" height="1"/>
<rect x="1605" y="841" width="3" height="1"/>
<rect x="1611" y="841" width="3" height="1"/>
<rect x="1617" y="841" width="3" height="1"/>
<rect x="1623" y="841" width="3" height="1"/>
<rect x="1629" y="841" width="3" height="1"/>
<rect x="1635" y="841" width="3" height="1"/>
<rect x="1641" y="841" width="3" height="1"/>
<rect x="1647" y="841" width="3" height="1"/>
<rect x="3" y="902" width="3" height="1"/>
<rect x="9" y="902" width="3" height="1"/>
<rect x="15" y="902" width="3" height="1"/>
<rect x="21" y="902" width="3" height="1"/>
<rect x="27" y="902" width="3" height="1"/>
<rect x="33" y="902" width="3" height="1"/>
<rect x="39" y="902" width="3" height="1"/>
<rect x="45" y="902" width="3" height="1"/>
<rect x="51" y="902" width="3" height="1"/>
<rect x="57" y="902" width="3" height="1"/>
<rect x="63" y="902" width="3" height="1"/>
<rect x="69" y="902" width="3" height="1"/>
<rect x="75" y="902" width="3" height="1"/>
<rect x="81" y="902" width="3" height="1"/>
<rect x="87" y="902" width="3" height="1"/>
<rect x="93" y="902" width="3" height="1"/>
<rect x="99" y="902" width="3" height="1"/>
<rect x="105" y="902" width="3" height="1"/>
<rect x="111" y="902" width="3" height="1"/>
<rect x="117" y="902" width="3" height="1"/>
<rect x="123" y="902" width="3" height="1"/>
<rect x="129" y="902" width="3" height="1"/>
<rect x="135" y="902" width="3" height="1"/>
<rect x="141" y="902" width="3" height="1"/>
<rect x="147" y="902" width="3" height="1"/>
<rect x="153" y="902" width="3" height="1"/>
<rect x="159" y="902" width="3" height="1"/>
<rect x="165" y="902" width="3" height="1"/>
<rect x="171" y="902" width="3" height="1"/>
<rect x="177" y="902" width="3" height="1"/>
<rect x="183" y="902" width="3" height="1"/>
<rect x="189" y="902" width="3" height="1"/>
<rect x="195" y="902" width="3" height="1"/>
<rect x="201" y="902" width="3" height="1"/>
<rect x="207" y="902" width="3" height="1"/>
<rect x="213" y="902" width="3" height="1"/>
<rect x="219" y="902" width="3" height="1"/>
<rect x="225" y="902" width="3" height="1"/>
<rect x="231" y="902" width="3" height="1"/>
<rect x="237" y="902" width="3" height="1"/>
<rect x="243" y="902" width="3" height="1"/>
<rect x="249" y="902" width="3" height="1"/>
<rect x="255" y="902" width="3" height="1"/>
<rect x="261" y="902" width="3" height="1"/>
<rect x="267" y="902" width="3" height="1"/>
<rect x="273" y="902" width="3" height="1"/>
<rect x="279" y="902" width="3" height="1"/>
<rect x="285" y="902" width="3" height="1"/>
<rect x="291" y="902" width="3" height="1"/>
<rect x="297" y="902" width="3" height="1"/>
<rect x="303" y="902" width="3" height="1"/>
<rect x="309" y="902" width="3" height="1"/>
<rect x="315" y="902" width="3" height="1"/>
<rect x="321" y="902" width="3" height="1"/>
<rect x="327" y="902" width="3" height="1"/>
<rect x="333" y="902" width="3" height="1"/>
<rect x="339" y="902" width="3" height="1"/>
<rect x="345" y="902" width="3" height="1"/>
<rect x="351" y="902" width="3" height="1"/>
<rect x="357" y="902" width="3" height="1"/>
<rect x="363" y="902" width="3" height="1"/>
<rect x="369" y="902" width="3" height="1"/>
<rect x="375" y="902" width="3" height="1"/>
<rect x="381" y="902" width="3" height="1"/>
<rect x="387" y="902" width="3" height="1"/>
<rect x="393" y="902" width="3" height="1"/>
<rect x="399" y="902" width="3" height="1"/>
<rect x="405" y="902" width="3" height="1"/>
<rect x="411" y="902" width="3" height="1"/>
<rect x="417" y="902" width="3" height="1"/>
<rect x="423" y="902" width="3" height="1"/>
<rect x="429" y="902" width="3" height="1"/>
<rect x="435" y="902" width="3" height="1"/>
<rect x="441" y="902" width="3" height="1"/>
<rect x="447" y="902" width="3" height="1"/>
<rect x="453" y="902" width="3" height="1"/>
<rect x="459" y="902" width="3" height="1"/>
<rect x="465" y="902" width="3" height="1"/>
<rect x="471" y="902" width="3" height="1"/>
<rect x="477" y="902" width="3" height="1"/>
<rect x="483" y="902" width="3" height="1"/>
<rect x="489" y="902" width="3" height="1"/>
<rect x="495" y="902" width="3" height="1"/>
<rect x="501" y="902" width="3" height="1"/>
<rect x="507" y="902" width="3" height="1"/>
<rect x="513" y="902" width="3" height="1"/>
<rect x="519" y="902" width="3" height="1"/>
<rect x="525" y="902" width="3" height="1"/>
<rect x="531" y="902" width="3" height="1"/>
<rect x="537" y="902" width="3" height="1"/>
<rect x="543" y="902" width="3" height="1"/>
<rect x="549" y="902" width="3" height="1"/>
<rect x="555" y="902" width="3" height="1"/>
<rect x="561" y="902" width="3" height="1"/>
<rect x="567" y="902" width="3" height="1"/>
<rect x="573" y="902" width="3" height="1"/>
<rect x="579" y="902" width="3" height="1"/>
<rect x="585" y="902" width="3" height="1"/>
<rect x="591" y="902" width="3" height="1"/>
<rect x="597" y="902" width="3" height="1"/>
<rect x="603" y="902" width="3" height="1"/>
<rect x="609" y="902" width="3" height="1"/>
<rect x="615" y="902" width="3" height="1"/>
<rect x="621" y="902" width="3" height="1"/>
<rect x="627" y="902" width="3" height="1"/>
<rect x="633" y="902" width="3" height="1"/>
<rect x="639" y="902" width="3" height="1"/>
<rect x="645" y="902" width="3" height="1"/>
<rect x="651" y="902" width="3" height="1"/>
<rect x="657" y="902" width="3" height="1"/>
<rect x="663" y="902" width="3" height="1"/>
<rect x="669" y="902" width="3" height="1"/>
<rect x="675" y="902" width="3" height="1"/>
<rect x="681" y="902" width="3" height="1"/>
<rect x="687" y="902" width="3" height="1"/>
<rect x="693" y="902" width="3" height="1"/>
<rect x="699" y="902" width="3" height="1"/>
<rect x="705" y="902" width="3" height="1"/>
<rect x="711" y="902" width="3" height="1"/>
<rect x="717" y="902" width="3" height="1"/>
<rect x="723" y="902" width="3" height="1"/>
<rect x="729" y="902" width="3" height="1"/>
<rect x="735" y="902" width="3" height="1"/>
<rect x="741" y="902" width="3" height="1"/>
<rect x="747" y="902" width="3" height="1"/>
<rect x="753" y="902" width="3" height="1"/>
<rect x="759" y="902" width="3" height="1"/>
<rect x="765" y="902" width="3" height="1"/>
<rect x="771" y="902" width="3" height="1"/>
<rect x="777" y="902" width="3" height="1"/>
<rect x="783" y="902" width="3" height="1"/>
<rect x="789" y="902" width="3" height="1"/>
<rect x="795" y="902" width="3" height="1"/>
<rect x="801" y="902" width="3" height="1"/>
<rect x="807" y="902" width="3" height="1"/>
<rect x="813" y="902" width="3" height="1"/>
<rect x="819" y="902" width="3" height="1"/>
<rect x="825" y="902" width="3" height="1"/>
<rect x="831" y="902" width="3" height="1"/>
<rect x="837" y="902" width="3" height="1"/>
<rect x="843" y="902" width="3" height="1"/>
<rect x="849" y="902" width="3" height="1"/>
<rect x="855" y="902" width="3" height="1"/>
<rect x="861" y="902" width="3" height="1"/>
<rect x="867" y="902" width="3" height="1"/>
<rect x="873" y="902" width="3" height="1"/>
<rect x="879" y="902" width="3" height="1"/>
<rect x="885" y="902" width="3" height="1"/>
<rect x="891" y="902" width="3" height="1"/>
<rect x="897" y="902" width="3" height="1"/>
<rect x="903" y="902" width="3" height="1"/>
<rect x="909" y="902" width="3" height="1"/>
<rect x="915" y="902" width="3" height="1"/>
<rect x="921" y="902" width="3" height="1"/>
<rect x="927" y="902" width="3" height="1"/>
<rect x="933" y="902" width="3" height="1"/>
<rect x="939" y="902" width="3" height="1"/>
<rect x="945" y="902" width="3" height="1"/>
<rect x="951" y="902" width="3" height="1"/>
<rect x="957" y="902" width="3" height="1"/>
<rect x="963" y="902" width="3" height="1"/>
<rect x="969" y="902" width="3" height="1"/>
<rect x="975" y="902" width="3" height="1"/>
<rect x="981" y="902" width="3" height="1"/>
<rect x="987" y="902" width="3" height="1"/>
<rect x="993" y="902" width="3" height="1"/>
<rect x="999" y="902" width="3" height="1"/>
<rect x="1005" y="902" width="3" height="1"/>
<rect x="1011" y="902" width="3" height="1"/>
<rect x="1017" y="902" width="3" height="1"/>
<rect x="1023" y="902" width="3" height="1"/>
<rect x="1029" y="902" width="3" height="1"/>
<rect x="1035" y="902" width="3" height="1"/>
<rect x="1041" y="902" width="3" height="1"/>
<rect x="1047" y="902" width="3" height="1"/>
<rect x="1053" y="902" width="3" height="1"/>
<rect x="1059" y="902" width="3" height="1"/>
<rect x="1065" y="902" width="3" height="1"/>
<rect x="1071" y="902" width="3" height="1"/>
<rect x="1077" y="902" width="3" height="1"/>
<rect x="1083" y="902" width="3" height="1"/>
<rect x="1089" y="902" width="3" height="1"/>
<rect x="1095" y="902" width="3" height="1"/>
<rect x="1101" y="902" width="3" height="1"/>
<rect x="1107" y="902" width="3" height="1"/>
<rect x="1113" y="902" width="3" height="1"/>
<rect x="1119" y="902" width="3" height="1"/>
<rect x="1125" y="902" width="3" height="1"/>
<rect x="1131" y="902" width="3" height="1"/>
<rect x="1137" y="902" width="3" height="1"/>
<rect x="1143" y="902" width="3" height="1"/>
<rect x="1149" y="902" width="3" height="1"/>
<rect x="1155" y="902" width="3" height="1"/>
<rect x="1161" y="902" width="3" height="1"/>
<rect x="1167" y="902" width="3" height="1"/>
<rect x="1173" y="902" width="3" height="1"/>
<rect x="1179" y="902" width="3" height="1"/>
<rect x="1185" y="902" width="3" height="1"/>
<rect x="1191" y="902" width="3" height="1"/>
<rect x="1197" y="902" width="3" height="1"/>
<rect x="1203" y="902" width="3" height="1"/>
<rect x="1209" y="902" width="3" height="1"/>
<rect x="1215" y="902" width="3" height="1"/>
<rect x="1221" y="902" width="3" height="1"/>
<rect x="1227" y="902" width="3" height="1"/>
<rect x="1233" y="902" width="3" height="1"/>
<rect x="1239" y="902" width="3" height="1"/>
<rect x="1245" y="902" width="3" height="1"/>
<rect x="1251" y="902" width="3" height="1"/>
<rect x="1257" y="902" width="3" height="1"/>
<rect x="1263" y="902" width="3" height="1"/>
<rect x="1269" y="902" width="3" height="1"/>
<rect x="1275" y="902" width="3" height="1"/>
<rect x="1281" y="902" width="3" height="1"/>
<rect x="1287" y="902" width="3" height="1"/>
<rect x="1293" y="902" width="3" height="1"/>
<rect x="1299" y="902" width="3" height="1"/>
<rect x="1305" y="902" width="3" height="1"/>
<rect x="1311" y="902" width="3" height="1"/>
<rect x="1317" y="902" width="3" height="1"/>
<rect x="1323" y="902" width="3" height="1"/>
<rect x="1329" y="902" width="3" height="1"/>
<rect x="1335" y="902" width="3" height="1"/>
<rect x="1341" y="902" width="3" height="1"/>
<rect x="1347" y="902" width="3" height="1"/>
<rect x="1353" y="902" width="3" height="1"/>
<rect x="1359" y="902" width="3" height="1"/>
<rect x="1365" y="902" width="3" height="1"/>
<rect x="1371" y="902" width="3" height="1"/>
<rect x="1377" y="902" width="3" height="1"/>
<rect x="1383" y="902" width="3" height="1"/>
<rect x="1389" y="902" width="3" height="1"/>
<rect x="1395" y="902" width="3" height="1"/>
<rect x="1401" y="902" width="3" height="1"/>
<rect x="1407" y="902" width="3" height="1"/>
<rect x="1413" y="902" width="3" height="1"/>
<rect x="1419" y="902" width="3" height="1"/>
<rect x="1425" y="902" width="3" height="1"/>
<rect x="1431" y="902" width="3" height="1"/>
<rect x="1437" y="902" width="3" height="1"/>
<rect x="1443" y="902" width="3" height="1"/>
<rect x="1449" y="902" width="3" height="1"/>
<rect x="1455" y="902" width="3" height="1"/>
<rect x="1461" y="902" width="3" height="1"/>
<rect x="1467" y="902" width="3" height="1"/>
<rect x="1473" y="902" width="3" height="1"/>
<rect x="1479" y="902" width="3" height="1"/>
<rect x="1485" y="902" width="3" height="1"/>
<rect x="1491" y="902" width="3" height="1"/>
<rect x="1497" y="902" width="3" height="1"/>
<rect x="1503" y="902" width="3" height="1"/>
<rect x="1509" y="902" width="3" height="1"/>
<rect x="1515" y="902" width="3" height="1"/>
<rect x="1521" y="902" width="3" height="1"/>
<rect x="1527" y="902" width="3" height="1"/>
<rect x="1533" y="902" width="3" height="1"/>
<rect x="1539" y="902" width="3" height="1"/>
<rect x="1545" y="902" width="3" height="1"/>
<rect x="1551" y="902" width="3" height="1"/>
<rect x="1557" y="902" width="3" height="1"/>
<rect x="1563" y="902" width="3" height="1"/>
<rect x="1569" y="902" width="3" height="1"/>
<rect x="1575" y="902" width="3" height="1"/>
<rect x="1581" y="902" width="3" height="1"/>
<rect x="1587" y="902" width="3" height="1"/>
<rect x="1593" y="902" width="3" height="1"/>
<rect x="1599" y="902" width="3" height="1"/>
<rect x="1605" y="902" width="3" height="1"/>
<rect x="1611" y="902" width="3" height="1"/>
<rect x="1617" y="902" width="3" height="1"/>
<rect x="1623" y="902" width="3" height="1"/>
<rect x="1629" y="902" width="3" height="1"/>
<rect x="1635" y="902" width="3" height="1"/>
<rect x="1641" y="902" width="3" height="1"/>
<rect x="1647" y="902" width="3" height="1"/>
</g>
<polyline points="0.0,876.8 6.0,878.0 14.0,862.5 22.0,857.5 30.0,859.5 38.0,855.5 46.0,846.2 54.0,833.0 62.0,828.0 70.0,823.0 78.0,823.0 86.0,821.2 94.0,815.5 102.0,821.2 110.0,818.0 118.0,808.0 126.0,803.8 134.0,810.0 142.0,812.0 150.0,811.2 158.0,830.0 166.0,829.2 174.0,828.2 182.0,827.5 190.0,822.5 198.0,827.5 206.0,824.5 214.0,817.0 222.0,818.0 230.0,820.5 238.0,817.5 246.0,835.0 254.0,843.0 262.0,857.0 270.0,842.5 278.0,846.2 286.0,861.2 294.0,848.8 302.0,841.2 310.0,848.8 318.0,853.8 326.0,854.5 334.0,852.5 342.0,846.2 350.0,840.5 358.0,843.8 366.0,833.8 374.0,823.0 382.0,829.5 390.0,823.0 398.0,812.0 406.0,821.2 414.0,830.0 422.0,829.5 430.0,836.2 438.0,837.0 446.0,837.0 454.0,841.2 462.0,849.5 470.0,857.0 478.0,858.0 486.0,867.0 494.0,856.2 502.0,856.2 510.0,856.2 518.0,856.2 526.0,854.5 534.0,854.5 542.0,840.5 550.0,840.5 558.0,828.0 566.0,832.0 574.0,843.0 582.0,837.0 590.0,826.2 598.0,811.2 606.0,807.0 614.0,808.8 622.0,814.5 630.0,806.2 638.0,803.0 646.0,802.0 654.0,801.2 662.0,813.8 670.0,817.5 678.0,813.0 686.0,813.0 694.0,823.0 702.0,821.2 710.0,820.5 718.0,816.2 726.0,824.5 734.0,833.0 742.0,822.0 750.0,821.2 758.0,825.5 766.0,825.5 774.0,824.5 782.0,816.2 790.0,834.5 798.0,834.5 806.0,832.5 814.0,833.8 822.0,832.5 830.0,838.0 838.0,817.5 846.0,823.0 854.0,820.5 862.0,820.5 870.0,822.5 878.0,817.5 886.0,826.2 894.0,826.2 902.0,832.0 910.0,830.5 918.0,825.5 926.0,833.0 934.0,820.5 942.0,820.5 950.0,823.0 958.0,840.0 966.0,834.5 974.0,841.2 982.0,873.0 990.0,869.5 998.0,865.5 1006.0,860.5 1014.0,857.0 1022.0,862.0 1030.0,834.5 1038.0,836.2 1046.0,838.0 1054.0,840.5 1062.0,840.5 1070.0,828.0 1078.0,822.5 1086.0,848.0 1094.0,849.5 1102.0,860.0 1110.0,871.2 1118.0,865.5 1126.0,868.0 1134.0,864.5 1142.0,865.0 1150.0,862.5 1158.0,867.5 1166.0,866.2 1174.0,860.0 1182.0,848.8 1190.0,851.2 1198.0,843.8 1206.0,841.5 1214.0,844.7 1222.0,858.0 1230.0,852.3 1238.0,846.6 1246.0,842.5 1254.0,842.5 1262.0,848.1 1270.0,848.1 1278.0,831.5 1286.0,830.2 1294.0,826.2 1302.0,835.7 1310.0,831.9 1318.0,808.9 1326.0,803.4 1334.0,810.2 1342.0,808.0 1350.0,804.2 1358.0,805.1 1366.0,807.0 1374.0,814.4 1382.0,818.5" fill="none" stroke="#1e90ff" stroke-width="1" shape-rendering="crispEdges"/>
</g>
<g fill="none" stroke="#ff0000" stroke-width="3" stroke-linecap="round" stroke-linejoin="round">
<polyline points="1211,341 1358,52 1384,122 1402,112"/>
</g>
<path d="M1375.5,113 L1385,124 L1388.5,111.5 L1384,116 Z" fill="#ff0000" stroke="#ff0000" stroke-width="1.5" stroke-linejoin="round"/>
<path d="M1391,112.5 L1404,110.5 L1396.5,121 L1397,115 Z" fill="#ff0000" stroke="#ff0000" stroke-width="1.5" stroke-linejoin="round"/>
<g>
</g>
<rect x="1293" y="124" width="146" height="9" fill="#00ff00"/>
<rect x="1287.5" y="47.5" width="61" height="18" fill="#fff" stroke="#ff0000" stroke-width="1" shape-rendering="crispEdges"/>
<text x="1288.6" y="63" font-size="16" fill="#ff0000" textLength="59" lengthAdjust="spacingAndGlyphs">0.73129</text>
<rect x="1193.5" y="116.5" width="73" height="24" fill="#fff" stroke="#ff0000" stroke-width="1" shape-rendering="crispEdges"/>
<rect x="1185" y="128" width="5" height="1" fill="#ff0000"/><rect x="1190.5" y="126.5" width="3" height="3" fill="#fff" stroke="#ff0000" stroke-width="1"/>
<rect x="1349.5" y="54.5" width="3" height="3" fill="#fff" stroke="#ff0000" stroke-width="1"/>
<text x="1194.5" y="136.7" font-size="20.7" fill="#ff0000" textLength="71.5" lengthAdjust="spacingAndGlyphs">0.72688</text>
<g fill="none" stroke="#ff0000" stroke-width="3" stroke-linecap="round" stroke-linejoin="round">
<polyline points="1279,673 1353,597 1355,595 1386,598"/>
<polyline points="1346,597 1354,595 1351,603"/>
</g>
<path d="M1378,593 L1389,598 L1378,603 Z" fill="#ff0000"/>
<path d="M1322,804 L1378,806 L1378,810 L1322,807 Z" fill="#ff0000"/>
<path d="M1376,801 L1388,808 L1376,813 Z" fill="#ff0000"/>
<g font-size="9.1" fill="#000"><rect x="1650" y="49" width="3" height="1" fill="#000" shape-rendering="crispEdges"/>
<text x="1654.5" y="52.6" textLength="34" lengthAdjust="spacingAndGlyphs">0.73175</text>
<rect x="1650" y="214" width="3" height="1" fill="#000" shape-rendering="crispEdges"/>
<text x="1654.5" y="217.6" textLength="34" lengthAdjust="spacingAndGlyphs">0.72160</text>
<rect x="1650" y="247" width="3" height="1" fill="#000" shape-rendering="crispEdges"/>
<text x="1654.5" y="250.6" textLength="34" lengthAdjust="spacingAndGlyphs">0.71960</text>
<rect x="1650" y="280" width="3" height="1" fill="#000" shape-rendering="crispEdges"/>
<text x="1654.5" y="283.6" textLength="34" lengthAdjust="spacingAndGlyphs">0.71755</text>
<rect x="1650" y="313" width="3" height="1" fill="#000" shape-rendering="crispEdges"/>
<text x="1654.5" y="316.6" textLength="34" lengthAdjust="spacingAndGlyphs">0.71555</text>
<rect x="1650" y="346" width="3" height="1" fill="#000" shape-rendering="crispEdges"/>
<text x="1654.5" y="349.6" textLength="34" lengthAdjust="spacingAndGlyphs">0.71350</text>
<rect x="1650" y="379" width="3" height="1" fill="#000" shape-rendering="crispEdges"/>
<text x="1654.5" y="382.6" textLength="34" lengthAdjust="spacingAndGlyphs">0.71150</text>
<rect x="1650" y="412" width="3" height="1" fill="#000" shape-rendering="crispEdges"/>
<text x="1654.5" y="415.6" textLength="34" lengthAdjust="spacingAndGlyphs">0.70945</text>
<rect x="1650" y="445" width="3" height="1" fill="#000" shape-rendering="crispEdges"/>
<text x="1654.5" y="448.6" textLength="34" lengthAdjust="spacingAndGlyphs">0.70745</text>
<rect x="1650" y="478" width="3" height="1" fill="#000" shape-rendering="crispEdges"/>
<text x="1654.5" y="481.6" textLength="34" lengthAdjust="spacingAndGlyphs">0.70540</text>
<rect x="1650" y="511" width="3" height="1" fill="#000" shape-rendering="crispEdges"/>
<text x="1654.5" y="514.6" textLength="34" lengthAdjust="spacingAndGlyphs">0.70340</text>
<rect x="1650" y="544" width="3" height="1" fill="#000" shape-rendering="crispEdges"/>
<text x="1654.5" y="547.6" textLength="34" lengthAdjust="spacingAndGlyphs">0.70135</text>
<rect x="1650" y="577" width="3" height="1" fill="#000" shape-rendering="crispEdges"/>
<text x="1654.5" y="580.6" textLength="34" lengthAdjust="spacingAndGlyphs">0.69935</text>
<rect x="1650" y="147" width="3" height="1" fill="#000" shape-rendering="crispEdges"/>
<text x="1654.5" y="150.6" textLength="34" lengthAdjust="spacingAndGlyphs">0.72565</text>
<rect x="1650" y="80" width="3" height="1" fill="#000" shape-rendering="crispEdges"/>
<text x="1654.5" y="83.6" textLength="34" lengthAdjust="spacingAndGlyphs">0.72960</text>
<text x="1653" y="593.5" textLength="37.5" lengthAdjust="spacingAndGlyphs">0.003139</text>
<text x="1653" y="664">0.00</text>
<rect x="1650" y="584" width="3" height="1" fill="#000"/><rect x="1650" y="756" width="3" height="1" fill="#000"/>
<text x="1651.5" y="749" textLength="42.5" lengthAdjust="spacingAndGlyphs">-0.003786</text>
<text x="1653" y="765">100</text>
<text x="1653" y="794">80</text>
<text x="1653" y="845">50</text>
<text x="1653" y="906">15</text>
<text x="1653" y="925">0</text>
<rect x="1651" y="50" width="41" height="11" fill="#ff0000"/>
<text x="1654.5" y="59.3" font-size="9.5" fill="#fff" textLength="34" lengthAdjust="spacingAndGlyphs">0.73129</text>
<rect x="1644.5" y="53.5" width="4" height="4" fill="#fff" stroke="#ff0000" stroke-width="1" shape-rendering="crispEdges"/>
<rect x="1651" y="80" width="41" height="11" fill="#ff0000"/>
<text x="1654.5" y="89.3" font-size="9.5" fill="#fff" textLength="34" lengthAdjust="spacingAndGlyphs">0.72945</text>
<rect x="1644.5" y="83.5" width="4" height="4" fill="#fff" stroke="#ff0000" stroke-width="1" shape-rendering="crispEdges"/>
<rect x="1651" y="106" width="41" height="11" fill="#000000"/>
<text x="1654.5" y="115.3" font-size="9.5" fill="#fff" textLength="34" lengthAdjust="spacingAndGlyphs">0.72790</text>
<rect x="1651" y="122" width="41" height="11" fill="#ffa500"/>
<text x="1654.5" y="131.3" font-size="9.5" fill="#fff" textLength="34" lengthAdjust="spacingAndGlyphs">0.72688</text>
<rect x="1644.5" y="125.5" width="4" height="4" fill="#fff" stroke="#ffa500" stroke-width="1" shape-rendering="crispEdges"/>
<rect x="1651" y="149" width="41" height="11" fill="#0000ff"/>
<text x="1654.5" y="158.3" font-size="9.5" fill="#fff" textLength="34" lengthAdjust="spacingAndGlyphs">0.72522</text>
<rect x="1644.5" y="152.5" width="4" height="4" fill="#fff" stroke="#0000ff" stroke-width="1" shape-rendering="crispEdges"/>
<rect x="1651" y="176" width="41" height="11" fill="#0000ff"/>
<text x="1654.5" y="185.3" font-size="9.5" fill="#fff" textLength="34" lengthAdjust="spacingAndGlyphs">0.72357</text>
<rect x="1644.5" y="179.5" width="4" height="4" fill="#fff" stroke="#0000ff" stroke-width="1" shape-rendering="crispEdges"/></g>
<g font-size="11" fill="#000"><text x="-12" y="942">6 Dec 2021</text>
<rect x="54" y="929" width="1" height="3" fill="#000" shape-rendering="crispEdges"/>
<text x="53" y="942" textLength="50.0" lengthAdjust="spacingAndGlyphs">7 Dec 04:00</text>
<rect x="118" y="929" width="1" height="3" fill="#000" shape-rendering="crispEdges"/>
<text x="117" y="942" textLength="50.0" lengthAdjust="spacingAndGlyphs">8 Dec 12:00</text>
<rect x="182" y="929" width="1" height="3" fill="#000" shape-rendering="crispEdges"/>
<text x="181" y="942" textLength="50.0" lengthAdjust="spacingAndGlyphs">9 Dec 20:00</text>
<rect x="246" y="929" width="1" height="3" fill="#000" shape-rendering="crispEdges"/>
<text x="245" y="942" textLength="54.6" lengthAdjust="spacingAndGlyphs">13 Dec 04:00</text>
<rect x="310" y="929" width="1" height="3" fill="#000" shape-rendering="crispEdges"/>
<text x="309" y="942" textLength="54.6" lengthAdjust="spacingAndGlyphs">14 Dec 12:00</text>
<rect x="374" y="929" width="1" height="3" fill="#000" shape-rendering="crispEdges"/>
<text x="373" y="942" textLength="54.6" lengthAdjust="spacingAndGlyphs">15 Dec 20:00</text>
<rect x="438" y="929" width="1" height="3" fill="#000" shape-rendering="crispEdges"/>
<text x="437" y="942" textLength="54.6" lengthAdjust="spacingAndGlyphs">17 Dec 04:00</text>
<rect x="502" y="929" width="1" height="3" fill="#000" shape-rendering="crispEdges"/>
<text x="501" y="942" textLength="54.6" lengthAdjust="spacingAndGlyphs">20 Dec 12:00</text>
<rect x="566" y="929" width="1" height="3" fill="#000" shape-rendering="crispEdges"/>
<text x="565" y="942" textLength="54.6" lengthAdjust="spacingAndGlyphs">21 Dec 20:00</text>
<rect x="630" y="929" width="1" height="3" fill="#000" shape-rendering="crispEdges"/>
<text x="629" y="942" textLength="54.6" lengthAdjust="spacingAndGlyphs">23 Dec 04:00</text>
<rect x="694" y="929" width="1" height="3" fill="#000" shape-rendering="crispEdges"/>
<text x="693" y="942" textLength="54.6" lengthAdjust="spacingAndGlyphs">24 Dec 12:00</text>
<rect x="758" y="929" width="1" height="3" fill="#000" shape-rendering="crispEdges"/>
<text x="757" y="942" textLength="54.6" lengthAdjust="spacingAndGlyphs">27 Dec 20:00</text>
<rect x="822" y="929" width="1" height="3" fill="#000" shape-rendering="crispEdges"/>
<text x="821" y="942" textLength="54.6" lengthAdjust="spacingAndGlyphs">29 Dec 04:00</text>
<rect x="886" y="929" width="1" height="3" fill="#000" shape-rendering="crispEdges"/>
<text x="885" y="942" textLength="54.6" lengthAdjust="spacingAndGlyphs">30 Dec 12:00</text>
<rect x="950" y="929" width="1" height="3" fill="#000" shape-rendering="crispEdges"/>
<text x="949" y="942" textLength="50.0" lengthAdjust="spacingAndGlyphs">2 Jan 23:00</text>
<rect x="1014" y="929" width="1" height="3" fill="#000" shape-rendering="crispEdges"/>
<text x="1013" y="942" textLength="50.0" lengthAdjust="spacingAndGlyphs">4 Jan 04:00</text>
<rect x="1078" y="929" width="1" height="3" fill="#000" shape-rendering="crispEdges"/>
<text x="1077" y="942" textLength="50.0" lengthAdjust="spacingAndGlyphs">5 Jan 12:00</text>
<rect x="1142" y="929" width="1" height="3" fill="#000" shape-rendering="crispEdges"/>
<text x="1141" y="942" textLength="50.0" lengthAdjust="spacingAndGlyphs">6 Jan 20:00</text>
<rect x="1206" y="929" width="1" height="3" fill="#000" shape-rendering="crispEdges"/>
<text x="1205" y="942" textLength="54.6" lengthAdjust="spacingAndGlyphs">10 Jan 04:00</text>
<rect x="1270" y="929" width="1" height="3" fill="#000" shape-rendering="crispEdges"/>
<text x="1269" y="942" textLength="54.6" lengthAdjust="spacingAndGlyphs">11 Jan 12:00</text>
<rect x="1334" y="929" width="1" height="3" fill="#000" shape-rendering="crispEdges"/>
<text x="1333" y="942" textLength="54.6" lengthAdjust="spacingAndGlyphs">12 Jan 20:00</text></g>
<text x="5.5" y="39.3" font-size="9.9" fill="#000" textLength="205.5" lengthAdjust="spacingAndGlyphs">AUDUSD-,H4&#160;&#160;0.72895 0.72895 0.72731 0.72790</text>
<text x="-6" y="594.5" font-size="10.2" fill="#000" textLength="149" lengthAdjust="spacingAndGlyphs">MACD(12,26,9) 0.002714 0.002181</text>
<text x="-6.5" y="766.8" font-size="10.2" fill="#000" textLength="68.5" lengthAdjust="spacingAndGlyphs">RSI(14) 62.8032</text>
<defs>
<linearGradient id="gtab" x1="0" y1="0" x2="0" y2="1"><stop offset="0" stop-color="#f25555"/><stop offset="1" stop-color="#d42a2a"/></linearGradient>
<linearGradient id="gbig" x1="0" y1="0" x2="0" y2="1"><stop offset="0" stop-color="#d83030"/><stop offset="1" stop-color="#a80000"/></linearGradient>
<linearGradient id="gbtn" x1="0" y1="0" x2="0" y2="1"><stop offset="0" stop-color="#f4f4f4"/><stop offset="1" stop-color="#d4d4d4"/></linearGradient>
</defs>
<rect x="0" y="46" width="213" height="59" fill="#fff"/>
<rect x="0" y="47" width="45" height="25" fill="url(#gtab)"/>
<rect x="160" y="47" width="52" height="25" fill="url(#gtab)"/>
<rect x="0" y="71" width="102" height="33" fill="url(#gbig)"/>
<rect x="104" y="71" width="108" height="33" fill="url(#gbig)"/>
<rect x="0" y="70" width="41" height="1" fill="#b81c1c"/>
<rect x="164" y="70" width="44" height="1" fill="#b81c1c"/>
<rect x="47.5" y="47.5" width="110" height="21" fill="#e8e8e8" stroke="#a8a8a8" stroke-width="1"/>
<rect x="48.5" y="48.5" width="19" height="19" fill="url(#gbtn)" stroke="#c8c8c8"/>
<rect x="136.5" y="48.5" width="20" height="19" fill="url(#gbtn)" stroke="#c8c8c8"/>
<rect x="68" y="48" width="68" height="20" fill="#fff"/>
<path d="M55,57 L61,57 L58,60 Z" fill="#5060c0"/>
<path d="M144,59 L150,59 L147,56 Z" fill="#5060c0"/>
<text x="133" y="62" font-size="12.5" fill="#000" text-anchor="end">1.00</text>
<text x="5" y="63" font-size="12.5" fill="#fff" textLength="26.8" lengthAdjust="spacingAndGlyphs">SELL</text>
<text x="172.8" y="63" font-size="12.5" fill="#fff" textLength="24" lengthAdjust="spacingAndGlyphs">BUY</text>
<text x="13" y="99" font-size="12" font-weight="bold" fill="#fff">0.72</text>
<text x="40.5" y="99" font-size="33" fill="#fff" textLength="35.5" lengthAdjust="spacingAndGlyphs">79</text>
<text x="80" y="83" font-size="11" font-weight="bold" fill="#fff">0</text>
<text x="123" y="99" font-size="12" font-weight="bold" fill="#fff">0.72</text>
<text x="151" y="99" font-size="33" fill="#fff" textLength="35" lengthAdjust="spacingAndGlyphs">81</text>
<text x="191" y="83" font-size="11" font-weight="bold" fill="#fff">2</text>
<path d="M1393,28 L1403,28 L1398,33 Z" fill="#b0b0b0"/>
</svg></body></html>
